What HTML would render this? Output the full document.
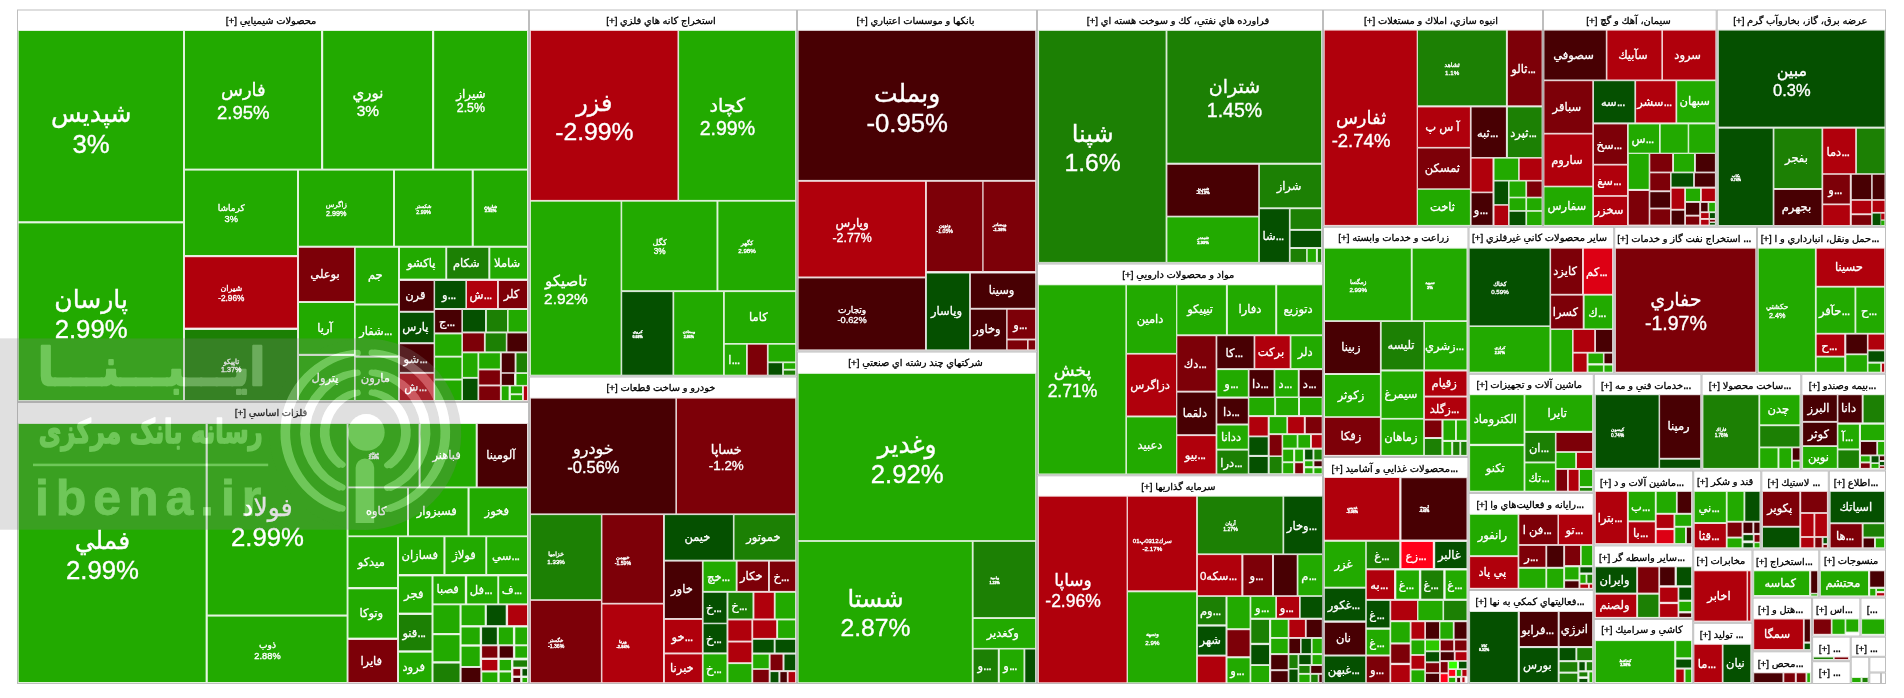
<!DOCTYPE html>
<html lang="fa" dir="ltr"><head><meta charset="utf-8"><title>نقشه بازار</title>
<style>
html,body{margin:0;padding:0;background:#fff;}
body{width:1904px;height:698px;overflow:hidden;position:relative;font-family:"Liberation Sans","DejaVu Sans",sans-serif;direction:ltr;}
#map{position:absolute;left:0;top:0;width:1904px;height:698px;}
#bg{position:absolute;left:0;top:0;}
#txt{position:absolute;left:0;top:0;width:1904px;height:698px;will-change:transform;direction:rtl;}
.h{position:absolute;height:20px;line-height:20px;font-size:9.85px;color:#000;text-align:center;white-space:nowrap;transform:translateX(-50%);-webkit-text-stroke:.3px #000;}
.t{position:absolute;color:#fff;display:flex;flex-direction:column;justify-content:center;align-items:center;text-align:center;white-space:nowrap;overflow:hidden;line-height:1.207;box-sizing:border-box;-webkit-text-stroke:.35px #fff;}
.t i{font-style:normal;display:block;direction:ltr;unicode-bidi:isolate;font-size:1.03em;line-height:1.1718;}
.t b{font-weight:normal;display:block;direction:ltr;}
u{text-decoration:none;display:inline-block;}
.h u{font-size:12px;letter-spacing:-.8px;}
.s u{font-size:13px;letter-spacing:-1px;}
.w{font-weight:bold;}
.w b{font-weight:bold;}
.s{font-size:11.5px;padding-top:1px;-webkit-text-stroke:.3px #fff;}
#wm{position:absolute;left:0;top:0;pointer-events:none;}
</style></head><body>
<div id="map"><div id="txt">
<svg id="bg" width="1904" height="698" viewBox="0 0 1904 698">
<rect x="17.5" y="10" width="511" height="391.5" fill="none" stroke="#bebebe"/>
<rect x="17.5" y="402.5" width="511" height="281" fill="none" stroke="#bebebe"/>
<rect x="529.5" y="10" width="267" height="366" fill="none" stroke="#bebebe"/>
<rect x="529.5" y="377" width="267" height="306.5" fill="none" stroke="#bebebe"/>
<rect x="797.5" y="10" width="239" height="341" fill="none" stroke="#bebebe"/>
<rect x="797.5" y="352" width="239" height="331.5" fill="none" stroke="#bebebe"/>
<rect x="1037.5" y="10" width="285" height="253" fill="none" stroke="#bebebe"/>
<rect x="1037.5" y="264" width="285" height="210.8" fill="none" stroke="#bebebe"/>
<rect x="1037.5" y="475.8" width="285" height="207.7" fill="none" stroke="#bebebe"/>
<rect x="1323.5" y="10" width="219" height="216.3" fill="none" stroke="#bebebe"/>
<rect x="1543.5" y="10" width="172.7" height="216.3" fill="none" stroke="#bebebe"/>
<rect x="1717.2" y="10" width="168.3" height="216.3" fill="none" stroke="#bebebe"/>
<rect x="1323.5" y="227.3" width="144.5" height="229.2" fill="none" stroke="#bebebe"/>
<rect x="1469" y="227.3" width="144.7" height="146" fill="none" stroke="#bebebe"/>
<rect x="1614.7" y="227.3" width="141.8" height="146" fill="none" stroke="#bebebe"/>
<rect x="1757.5" y="227.3" width="128" height="146" fill="none" stroke="#bebebe"/>
<rect x="1323.5" y="457.5" width="144.5" height="226" fill="none" stroke="#bebebe"/>
<rect x="1469" y="374.3" width="124.3" height="118.1" fill="none" stroke="#bebebe"/>
<rect x="1594.3" y="374.3" width="106.7" height="95.7" fill="none" stroke="#bebebe"/>
<rect x="1702" y="374.3" width="98.8" height="95.7" fill="none" stroke="#bebebe"/>
<rect x="1801.8" y="374.3" width="83.7" height="95.7" fill="none" stroke="#bebebe"/>
<rect x="1469" y="493.4" width="124.3" height="96.1" fill="none" stroke="#bebebe"/>
<rect x="1469" y="590.5" width="124.3" height="93" fill="none" stroke="#bebebe"/>
<rect x="1594.3" y="471" width="98.4" height="73.9" fill="none" stroke="#bebebe"/>
<rect x="1594.3" y="545.9" width="98.4" height="72.6" fill="none" stroke="#bebebe"/>
<rect x="1594.3" y="619.5" width="98.4" height="64" fill="none" stroke="#bebebe"/>
<rect x="1693.7" y="471" width="67.1" height="78" fill="none" stroke="#bebebe"/>
<rect x="1761.8" y="471" width="66.5" height="78" fill="none" stroke="#bebebe"/>
<rect x="1829.3" y="471" width="56.2" height="78" fill="none" stroke="#bebebe"/>
<rect x="1693.7" y="550" width="58.3" height="72.3" fill="none" stroke="#bebebe"/>
<rect x="1753" y="550" width="65.8" height="47.1" fill="none" stroke="#bebebe"/>
<rect x="1819.8" y="550" width="65.7" height="47.1" fill="none" stroke="#bebebe"/>
<rect x="1693.7" y="623.3" width="58.3" height="60.2" fill="none" stroke="#bebebe"/>
<rect x="1753" y="598.1" width="58.6" height="52.7" fill="none" stroke="#bebebe"/>
<rect x="1812.6" y="598.1" width="47.3" height="38" fill="none" stroke="#bebebe"/>
<rect x="1860.9" y="598.1" width="24.6" height="38" fill="none" stroke="#bebebe"/>
<rect x="1753" y="651.8" width="58.6" height="31.7" fill="none" stroke="#bebebe"/>
<rect x="1812.6" y="637.1" width="37.6" height="23.6" fill="none" stroke="#bebebe"/>
<rect x="1851.2" y="637.1" width="34.3" height="19.2" fill="none" stroke="#bebebe"/>
<rect x="1812.6" y="661.7" width="37.6" height="21.8" fill="none" stroke="#bebebe"/>
<rect x="1851.2" y="657.3" width="17.6" height="26.2" fill="none" stroke="#bebebe"/>
<rect x="1869.8" y="657.3" width="15.7" height="14.7" fill="none" stroke="#bebebe"/>
<rect x="1869.8" y="673" width="10.7" height="10.5" fill="none" stroke="#bebebe"/>
<rect x="1881.5" y="673" width="4" height="10.5" fill="none" stroke="#bebebe"/>
<g fill-opacity=".14">
<rect x="17.7" y="30" width="166.3" height="192.2" fill="#22aa00"/>
<rect x="17.7" y="222.4" width="166.3" height="178.6" fill="#22aa00"/>
<rect x="184" y="30" width="138" height="139.6" fill="#22aa00"/>
<rect x="322.2" y="30" width="110.8" height="139.6" fill="#22aa00"/>
<rect x="433.2" y="30" width="94.8" height="139.6" fill="#22aa00"/>
<rect x="184" y="169.6" width="114" height="86.4" fill="#22aa00"/>
<rect x="298" y="169.6" width="96" height="77.1" fill="#22aa00"/>
<rect x="394" y="169.6" width="78.7" height="77.1" fill="#22aa00"/>
<rect x="472.8" y="169.6" width="55.2" height="77.1" fill="#22aa00"/>
<rect x="184" y="256.2" width="114" height="72.4" fill="#b0000c"/>
<rect x="184" y="329" width="114" height="72" fill="#1c8004"/>
<rect x="298" y="246.8" width="57" height="55.2" fill="#7d0008"/>
<rect x="354.7" y="246.8" width="44.3" height="57.7" fill="#22aa00"/>
<rect x="399" y="246.8" width="47.3" height="32.8" fill="#22aa00"/>
<rect x="446.2" y="246.8" width="43.1" height="32.8" fill="#1c8004"/>
<rect x="489.3" y="246.8" width="38.7" height="32.8" fill="#22aa00"/>
<rect x="399" y="280" width="35.6" height="31.8" fill="#480003"/>
<rect x="434.1" y="280" width="32.3" height="29" fill="#055000"/>
<rect x="466" y="280" width="32" height="29" fill="#b0000c"/>
<rect x="497.9" y="280" width="30.1" height="29" fill="#7d0008"/>
<rect x="298" y="302" width="57" height="52.8" fill="#22aa00"/>
<rect x="298" y="355" width="57" height="46" fill="#22aa00"/>
<rect x="354.7" y="304.5" width="44.3" height="52.1" fill="#22aa00"/>
<rect x="354.7" y="356.7" width="44.3" height="44.3" fill="#22aa00"/>
<rect x="399" y="311.8" width="35.6" height="31.4" fill="#055000"/>
<rect x="399" y="343.2" width="35.6" height="29.7" fill="#480003"/>
<rect x="399" y="372.8" width="35.6" height="28.2" fill="#b0000c"/>
<rect x="434.1" y="309" width="28.3" height="24.4" fill="#480003"/>
<rect x="462" y="309" width="24" height="23.5" fill="#055000"/>
<rect x="485.9" y="309" width="22.1" height="23.5" fill="#1c8004"/>
<rect x="507.6" y="309" width="20.4" height="23.5" fill="#22aa00"/>
<rect x="434.1" y="333.4" width="28.3" height="23.3" fill="#22aa00"/>
<rect x="462" y="332.4" width="22.9" height="20" fill="#7d0008"/>
<rect x="484.7" y="332.4" width="22.1" height="20" fill="#1c8004"/>
<rect x="506.4" y="332.4" width="21.6" height="20" fill="#480003"/>
<rect x="434.1" y="356.6" width="28.3" height="23" fill="#22aa00"/>
<rect x="462" y="352.3" width="16.5" height="25.6" fill="#22aa00"/>
<rect x="478.2" y="352.3" width="22.7" height="17.2" fill="#22aa00"/>
<rect x="500.8" y="352.3" width="14.8" height="20.9" fill="#480003"/>
<rect x="515.5" y="352.3" width="12.5" height="20.9" fill="#1c8004"/>
<rect x="434.1" y="379.5" width="28.3" height="21.5" fill="#22aa00"/>
<rect x="462" y="377.8" width="16.5" height="23.2" fill="#055000"/>
<rect x="478.2" y="369.4" width="22.7" height="16.1" fill="#7d0008"/>
<rect x="500.8" y="372.8" width="14.2" height="13.1" fill="#480003"/>
<rect x="515.5" y="373" width="12.5" height="12.9" fill="#22aa00"/>
<rect x="478.2" y="385.4" width="22.7" height="15.6" fill="#7d0008"/>
<rect x="500.8" y="385.4" width="8.8" height="15.6" fill="#22aa00"/>
<rect x="509.9" y="385.4" width="13.1" height="8.9" fill="#22aa00"/>
<rect x="509.9" y="394.2" width="13.1" height="6.8" fill="#22aa00"/>
<rect x="522.9" y="385.4" width="5.1" height="15.6" fill="#b0000c"/>
<rect x="17.7" y="423" width="188.9" height="260" fill="#22aa00"/>
<rect x="206.8" y="423" width="140.8" height="192.5" fill="#22aa00"/>
<rect x="206.8" y="615.6" width="140.8" height="67.4" fill="#22aa00"/>
<rect x="347.5" y="423" width="72.1" height="64.5" fill="#22aa00"/>
<rect x="419.6" y="423" width="57.1" height="64.5" fill="#22aa00"/>
<rect x="476.8" y="423" width="51.2" height="64.5" fill="#480003"/>
<rect x="347.5" y="487.3" width="60.5" height="49.1" fill="#22aa00"/>
<rect x="408" y="487.3" width="60.5" height="49.1" fill="#22aa00"/>
<rect x="468.6" y="487.3" width="59.4" height="49.1" fill="#22aa00"/>
<rect x="347.5" y="536.2" width="50.5" height="51.8" fill="#22aa00"/>
<rect x="347.5" y="588.3" width="50.5" height="50.3" fill="#22aa00"/>
<rect x="347.5" y="639" width="50.5" height="44" fill="#7d0008"/>
<rect x="398" y="536.2" width="46.4" height="38.8" fill="#22aa00"/>
<rect x="444.5" y="536.2" width="41.8" height="38.8" fill="#22aa00"/>
<rect x="486.2" y="536.2" width="41.8" height="38.8" fill="#22aa00"/>
<rect x="398" y="575.4" width="34.5" height="38.2" fill="#22aa00"/>
<rect x="398" y="614" width="34.5" height="37.3" fill="#1c8004"/>
<rect x="398" y="651.7" width="34.5" height="31.3" fill="#22aa00"/>
<rect x="432.5" y="575.4" width="33.3" height="29" fill="#22aa00"/>
<rect x="466.2" y="575.4" width="32.1" height="29" fill="#22aa00"/>
<rect x="498.2" y="575.4" width="29.8" height="29" fill="#22aa00"/>
<rect x="432.5" y="604.3" width="28" height="29.7" fill="#22aa00"/>
<rect x="432.5" y="634.2" width="28" height="28" fill="#22aa00"/>
<rect x="432.5" y="662.6" width="28" height="20.4" fill="#1c8004"/>
<rect x="460.6" y="604.3" width="25.1" height="21.8" fill="#22aa00"/>
<rect x="485.9" y="604.3" width="20.8" height="21.8" fill="#055000"/>
<rect x="507.1" y="604.3" width="20.9" height="21.8" fill="#b0000c"/>
<rect x="460.6" y="626.5" width="20.1" height="18.8" fill="#22aa00"/>
<rect x="481.1" y="626.5" width="16.7" height="18.8" fill="#055000"/>
<rect x="497.9" y="626.5" width="16" height="18.8" fill="#22aa00"/>
<rect x="514.3" y="626.5" width="13.7" height="18.8" fill="#22aa00"/>
<rect x="460.6" y="645.7" width="20.1" height="21.3" fill="#22aa00"/>
<rect x="481.1" y="645.3" width="17.2" height="13.3" fill="#7d0008"/>
<rect x="498.7" y="645.3" width="15.2" height="13.3" fill="#480003"/>
<rect x="514.3" y="645.3" width="13.7" height="13.3" fill="#22aa00"/>
<rect x="481.1" y="659" width="17.2" height="12.3" fill="#b0000c"/>
<rect x="498.7" y="659" width="13.3" height="12.3" fill="#22aa00"/>
<rect x="512.4" y="659.4" width="15.6" height="8.3" fill="#1c8004"/>
<rect x="460.6" y="667" width="20.8" height="16" fill="#480003"/>
<rect x="481.3" y="671.5" width="17" height="11.5" fill="#22aa00"/>
<rect x="498.7" y="671.5" width="13.3" height="11.5" fill="#22aa00"/>
<rect x="512.4" y="668.1" width="8.7" height="8.5" fill="#7d0008"/>
<rect x="521.5" y="668.1" width="6.5" height="8.5" fill="#055000"/>
<rect x="512.4" y="677" width="8.7" height="6" fill="#480003"/>
<rect x="521.5" y="677" width="6.5" height="6" fill="#22aa00"/>
<rect x="529.9" y="29.9" width="148.6" height="171" fill="#b0000c"/>
<rect x="678.1" y="29.9" width="118" height="171" fill="#22aa00"/>
<rect x="529.9" y="200.7" width="91.7" height="175" fill="#22aa00"/>
<rect x="621.2" y="200.7" width="96.3" height="90.5" fill="#22aa00"/>
<rect x="717.4" y="200.7" width="78.8" height="90.5" fill="#22aa00"/>
<rect x="621.2" y="291.1" width="52.3" height="84.6" fill="#055000"/>
<rect x="673.2" y="291.1" width="50.8" height="84.6" fill="#22aa00"/>
<rect x="723.8" y="291.1" width="72.4" height="52.9" fill="#22aa00"/>
<rect x="723.8" y="343.7" width="23.2" height="32" fill="#22aa00"/>
<rect x="746.8" y="343.7" width="21.1" height="32" fill="#7d0008"/>
<rect x="767.6" y="343.7" width="28.6" height="18.8" fill="#22aa00"/>
<rect x="767.6" y="362.2" width="15.5" height="13.5" fill="#055000"/>
<rect x="782.9" y="362.2" width="13.3" height="7.6" fill="#22aa00"/>
<rect x="782.9" y="369.6" width="13.3" height="6.1" fill="#1c8004"/>
<rect x="529.9" y="397.6" width="146.5" height="116.8" fill="#480003"/>
<rect x="676" y="397.6" width="120.2" height="116.8" fill="#7d0008"/>
<rect x="529.9" y="514.1" width="72" height="86.1" fill="#1c8004"/>
<rect x="601.4" y="514.1" width="62.6" height="89.7" fill="#7d0008"/>
<rect x="663.9" y="514.1" width="70" height="46.6" fill="#055000"/>
<rect x="733.5" y="514.1" width="62.7" height="46.6" fill="#1c8004"/>
<rect x="529.9" y="599.9" width="72" height="83.3" fill="#7d0008"/>
<rect x="601.4" y="603.5" width="62.6" height="79.7" fill="#b0000c"/>
<rect x="663.9" y="560.6" width="39" height="58.4" fill="#480003"/>
<rect x="702.6" y="560.6" width="34.1" height="31.3" fill="#22aa00"/>
<rect x="736.6" y="560.6" width="32.4" height="31.3" fill="#7d0008"/>
<rect x="768.9" y="560.6" width="27.3" height="31.3" fill="#7d0008"/>
<rect x="663.9" y="618.9" width="39" height="34.6" fill="#b0000c"/>
<rect x="663.9" y="653.4" width="39" height="29.8" fill="#b0000c"/>
<rect x="702.6" y="591.8" width="24.9" height="31.9" fill="#055000"/>
<rect x="727.4" y="591.8" width="26.1" height="27.7" fill="#1c8004"/>
<rect x="753.4" y="591.8" width="21.4" height="27.7" fill="#b0000c"/>
<rect x="774.6" y="591.8" width="21.5" height="27.7" fill="#22aa00"/>
<rect x="702.6" y="623.2" width="24.9" height="30.2" fill="#055000"/>
<rect x="702.6" y="653.4" width="24.9" height="29.8" fill="#22aa00"/>
<rect x="727.4" y="619.4" width="25" height="22.2" fill="#b0000c"/>
<rect x="727.4" y="641.5" width="25" height="21.7" fill="#b0000c"/>
<rect x="727.4" y="663.1" width="25" height="20.1" fill="#22aa00"/>
<rect x="752.2" y="619.4" width="25" height="19.5" fill="#b0000c"/>
<rect x="777.1" y="619.4" width="19" height="19.5" fill="#22aa00"/>
<rect x="752.2" y="638.8" width="22.5" height="14.7" fill="#055000"/>
<rect x="774.6" y="638.8" width="21.5" height="14.7" fill="#055000"/>
<rect x="752.2" y="653.6" width="17.5" height="15.6" fill="#22aa00"/>
<rect x="769.6" y="653.6" width="13.9" height="17.5" fill="#7d0008"/>
<rect x="783.5" y="653.6" width="12.7" height="17.5" fill="#055000"/>
<rect x="752.2" y="668.9" width="17.5" height="14.3" fill="#7d0008"/>
<rect x="769.6" y="671.1" width="9.8" height="12.1" fill="#055000"/>
<rect x="779.4" y="671.1" width="8.4" height="12.1" fill="#480003"/>
<rect x="787.6" y="671.1" width="8.5" height="12.1" fill="#b0000c"/>
<rect x="797.6" y="29.9" width="238.6" height="151" fill="#480003"/>
<rect x="797.6" y="180.8" width="128.4" height="96.7" fill="#b0000c"/>
<rect x="925.9" y="180.8" width="57.3" height="91.2" fill="#7d0008"/>
<rect x="982.6" y="180.8" width="53.5" height="91.2" fill="#7d0008"/>
<rect x="797.6" y="277.4" width="128.4" height="73" fill="#480003"/>
<rect x="925.9" y="272.5" width="44.2" height="77.9" fill="#055000"/>
<rect x="969.9" y="272.5" width="66.3" height="36.3" fill="#480003"/>
<rect x="969.9" y="308.7" width="37.2" height="41.7" fill="#480003"/>
<rect x="1006.6" y="308.7" width="29.5" height="30.9" fill="#7d0008"/>
<rect x="1006.6" y="339.4" width="21.4" height="11" fill="#7d0008"/>
<rect x="1027.6" y="339.4" width="8.5" height="11" fill="#7d0008"/>
<rect x="797.6" y="372.9" width="238.6" height="168.2" fill="#22aa00"/>
<rect x="797.6" y="540.9" width="175.2" height="142.3" fill="#22aa00"/>
<rect x="972.6" y="540.9" width="63.5" height="77.2" fill="#1c8004"/>
<rect x="972.6" y="618" width="63.5" height="30.9" fill="#22aa00"/>
<rect x="972.6" y="648.5" width="26.2" height="34.7" fill="#1c8004"/>
<rect x="998.8" y="648.5" width="25.7" height="34.7" fill="#22aa00"/>
<rect x="1024.3" y="648.5" width="11.8" height="34.7" fill="#055000"/>
<rect x="1038.1" y="29.9" width="128.5" height="233" fill="#1c8004"/>
<rect x="1166.4" y="29.9" width="155.7" height="133.8" fill="#1c8004"/>
<rect x="1166.4" y="163.8" width="92.8" height="52.9" fill="#480003"/>
<rect x="1166.4" y="216.4" width="92.8" height="46.5" fill="#22aa00"/>
<rect x="1258.9" y="163.8" width="63.2" height="44.5" fill="#1c8004"/>
<rect x="1258.9" y="208.2" width="31" height="54.7" fill="#055000"/>
<rect x="1289.6" y="208.2" width="32.5" height="21.7" fill="#1c8004"/>
<rect x="1289.6" y="229.9" width="32.5" height="18.1" fill="#055000"/>
<rect x="1289.6" y="248" width="17.5" height="14.9" fill="#1c8004"/>
<rect x="1306.7" y="248" width="10.2" height="14.9" fill="#22aa00"/>
<rect x="1316.9" y="248" width="5.2" height="14.9" fill="#1c8004"/>
<rect x="1037.9" y="284.3" width="88.5" height="190.2" fill="#22aa00"/>
<rect x="1126" y="284.3" width="51" height="69.6" fill="#22aa00"/>
<rect x="1126" y="353.6" width="51" height="62.9" fill="#b0000c"/>
<rect x="1126" y="416.4" width="51" height="58.1" fill="#22aa00"/>
<rect x="1176.3" y="284.3" width="50.6" height="51" fill="#22aa00"/>
<rect x="1226.9" y="284.3" width="49.3" height="51" fill="#22aa00"/>
<rect x="1276.2" y="284.3" width="46.8" height="51" fill="#22aa00"/>
<rect x="1176.3" y="335.2" width="40.3" height="56.5" fill="#7d0008"/>
<rect x="1176.3" y="391.6" width="40.3" height="43.6" fill="#480003"/>
<rect x="1176.3" y="435.1" width="40.3" height="39.4" fill="#b0000c"/>
<rect x="1216.3" y="335.2" width="38.3" height="33.9" fill="#480003"/>
<rect x="1254.3" y="335.2" width="36.4" height="33.9" fill="#b0000c"/>
<rect x="1290.4" y="335.2" width="32.6" height="33.9" fill="#22aa00"/>
<rect x="1216.3" y="369.1" width="32.5" height="28.4" fill="#22aa00"/>
<rect x="1248.5" y="369.1" width="26.1" height="28.4" fill="#480003"/>
<rect x="1274.3" y="369.1" width="24.5" height="28.4" fill="#22aa00"/>
<rect x="1298.7" y="369.1" width="24.3" height="28.4" fill="#480003"/>
<rect x="1216.3" y="397.7" width="32.5" height="26.8" fill="#480003"/>
<rect x="1216.3" y="424.5" width="32.5" height="25.2" fill="#22aa00"/>
<rect x="1216.3" y="449.6" width="32.5" height="24.9" fill="#1c8004"/>
<rect x="1248.3" y="397" width="26.9" height="19.1" fill="#22aa00"/>
<rect x="1275.1" y="397" width="23.9" height="19.1" fill="#22aa00"/>
<rect x="1299" y="397" width="23.7" height="19.1" fill="#22aa00"/>
<rect x="1248.3" y="416.1" width="20.4" height="20.4" fill="#b0000c"/>
<rect x="1268.7" y="416.1" width="18.7" height="18.1" fill="#22aa00"/>
<rect x="1287.1" y="416.1" width="17.7" height="18.1" fill="#b0000c"/>
<rect x="1304.8" y="416.1" width="17.9" height="18.1" fill="#7d0008"/>
<rect x="1248.3" y="436.3" width="20.4" height="19.6" fill="#055000"/>
<rect x="1268.7" y="434.1" width="13.9" height="22.3" fill="#7d0008"/>
<rect x="1282.2" y="434.1" width="15.5" height="14.5" fill="#22aa00"/>
<rect x="1297.4" y="434.1" width="13.6" height="14.5" fill="#22aa00"/>
<rect x="1310.9" y="434.1" width="11.8" height="14.5" fill="#b0000c"/>
<rect x="1248.3" y="456" width="20.4" height="18.2" fill="#055000"/>
<rect x="1268.7" y="456" width="13.9" height="18.2" fill="#1c8004"/>
<rect x="1282.2" y="448.7" width="11.9" height="13.6" fill="#22aa00"/>
<rect x="1294.2" y="448.7" width="9.7" height="13.6" fill="#22aa00"/>
<rect x="1304.1" y="448.7" width="9.4" height="11.7" fill="#055000"/>
<rect x="1313.4" y="448.7" width="9.3" height="11.7" fill="#1c8004"/>
<rect x="1282.2" y="462.2" width="11.9" height="12" fill="#22aa00"/>
<rect x="1294.2" y="462.2" width="9.7" height="12" fill="#7d0008"/>
<rect x="1304.1" y="460.3" width="9.4" height="6.8" fill="#22aa00"/>
<rect x="1313.4" y="460.3" width="9.3" height="6.8" fill="#480003"/>
<rect x="1304.1" y="467.3" width="9.4" height="6.9" fill="#22aa00"/>
<rect x="1313.4" y="467.3" width="9.3" height="6.9" fill="#22aa00"/>
<rect x="1037.9" y="495.7" width="89.7" height="187.6" fill="#b0000c"/>
<rect x="1127" y="495.7" width="70.1" height="95.6" fill="#b0000c"/>
<rect x="1127" y="591.3" width="70.1" height="92" fill="#22aa00"/>
<rect x="1196.9" y="495.7" width="86.6" height="58.7" fill="#1c8004"/>
<rect x="1283.2" y="495.7" width="39.9" height="58.7" fill="#055000"/>
<rect x="1196.9" y="554.1" width="45.4" height="42.1" fill="#b0000c"/>
<rect x="1242.4" y="554.1" width="30.6" height="42.1" fill="#7d0008"/>
<rect x="1273" y="554.1" width="24.7" height="42.1" fill="#480003"/>
<rect x="1297.4" y="554.1" width="25.7" height="42.1" fill="#22aa00"/>
<rect x="1196.9" y="595.9" width="29.6" height="29.4" fill="#1c8004"/>
<rect x="1196.9" y="625.6" width="29.6" height="30" fill="#055000"/>
<rect x="1196.9" y="655.6" width="29.6" height="27.7" fill="#b0000c"/>
<rect x="1226.5" y="595.9" width="24.1" height="33.3" fill="#22aa00"/>
<rect x="1226.5" y="629.2" width="24.1" height="28" fill="#7d0008"/>
<rect x="1226.5" y="657.3" width="24.1" height="26" fill="#22aa00"/>
<rect x="1250.3" y="595.9" width="26" height="22.8" fill="#22aa00"/>
<rect x="1276" y="595.9" width="24" height="22.8" fill="#b0000c"/>
<rect x="1299.7" y="595.9" width="23.4" height="22.8" fill="#055000"/>
<rect x="1250.3" y="618.9" width="19.7" height="24.9" fill="#1c8004"/>
<rect x="1250.3" y="644.1" width="19.7" height="21" fill="#055000"/>
<rect x="1250.3" y="665" width="19.7" height="18" fill="#22aa00"/>
<rect x="1270.2" y="618.9" width="18.5" height="19.1" fill="#22aa00"/>
<rect x="1288.4" y="618.9" width="17.5" height="19.1" fill="#b0000c"/>
<rect x="1305.7" y="618.9" width="17.1" height="19.1" fill="#480003"/>
<rect x="1270.2" y="637.9" width="18.5" height="16.2" fill="#22aa00"/>
<rect x="1288.4" y="637.9" width="12.6" height="16.2" fill="#480003"/>
<rect x="1300.6" y="637.9" width="11.3" height="16.2" fill="#055000"/>
<rect x="1311.6" y="637.9" width="11.2" height="16.2" fill="#22aa00"/>
<rect x="1270.2" y="654.1" width="18.5" height="16.1" fill="#480003"/>
<rect x="1288.4" y="654.1" width="10.2" height="14.9" fill="#1c8004"/>
<rect x="1298.3" y="654.1" width="13.4" height="11" fill="#055000"/>
<rect x="1311.6" y="654.1" width="11.2" height="11" fill="#22aa00"/>
<rect x="1270.2" y="670.2" width="18.5" height="12.8" fill="#480003"/>
<rect x="1288.4" y="668.6" width="10.2" height="14.4" fill="#055000"/>
<rect x="1298.3" y="665" width="12.3" height="8.9" fill="#1c8004"/>
<rect x="1310.2" y="665" width="12.6" height="8.9" fill="#480003"/>
<rect x="1298.3" y="673.8" width="12.3" height="9.2" fill="#22aa00"/>
<rect x="1310.2" y="673.8" width="8.5" height="9.2" fill="#1c8004"/>
<rect x="1318.3" y="673.8" width="4.5" height="9.2" fill="#480003"/>
<rect x="1323.7" y="29.6" width="94" height="196.3" fill="#b0000c"/>
<rect x="1417" y="29.6" width="89.9" height="76.7" fill="#1c8004"/>
<rect x="1506.9" y="29.6" width="35.7" height="76.7" fill="#7d0008"/>
<rect x="1417" y="106.4" width="53.9" height="41.5" fill="#b0000c"/>
<rect x="1417" y="147.5" width="53.9" height="41.8" fill="#7d0008"/>
<rect x="1417" y="188.8" width="53.9" height="37.1" fill="#22aa00"/>
<rect x="1470.6" y="106.4" width="36.3" height="51.6" fill="#480003"/>
<rect x="1506.9" y="106.4" width="35.7" height="51.6" fill="#1c8004"/>
<rect x="1470.6" y="157.6" width="22.9" height="35" fill="#b0000c"/>
<rect x="1470.6" y="192.2" width="22.9" height="33.7" fill="#480003"/>
<rect x="1493.5" y="157.6" width="25.6" height="23.3" fill="#22aa00"/>
<rect x="1518.7" y="157.6" width="23.9" height="23.3" fill="#b0000c"/>
<rect x="1493.5" y="180.5" width="15.5" height="24.6" fill="#055000"/>
<rect x="1493.5" y="204.7" width="15.5" height="21.3" fill="#b0000c"/>
<rect x="1508.6" y="180.5" width="17.8" height="17.2" fill="#22aa00"/>
<rect x="1526.1" y="180.5" width="16.5" height="17.2" fill="#7d0008"/>
<rect x="1508.6" y="197.3" width="17.8" height="13.8" fill="#22aa00"/>
<rect x="1526.1" y="197.3" width="16.5" height="13.8" fill="#22aa00"/>
<rect x="1508.6" y="210.8" width="17.8" height="15.2" fill="#055000"/>
<rect x="1526.1" y="210.8" width="16.5" height="15.2" fill="#22aa00"/>
<rect x="1543.4" y="29.6" width="63.4" height="50.9" fill="#480003"/>
<rect x="1606.4" y="29.6" width="56" height="50.9" fill="#b0000c"/>
<rect x="1662" y="29.6" width="54.3" height="50.9" fill="#b0000c"/>
<rect x="1543.4" y="80.2" width="49.9" height="53.6" fill="#7d0008"/>
<rect x="1593" y="80.2" width="42.4" height="43.2" fill="#055000"/>
<rect x="1635.1" y="80.2" width="41.4" height="43.2" fill="#b0000c"/>
<rect x="1676.2" y="80.2" width="40.1" height="43.2" fill="#22aa00"/>
<rect x="1543.4" y="133.5" width="49.9" height="53.2" fill="#b0000c"/>
<rect x="1543.4" y="186.3" width="49.9" height="39.6" fill="#22aa00"/>
<rect x="1593" y="123.4" width="35" height="41.4" fill="#7d0008"/>
<rect x="1593" y="164.5" width="35" height="31.6" fill="#b0000c"/>
<rect x="1593" y="195.8" width="35" height="30.2" fill="#b0000c"/>
<rect x="1627.7" y="123.4" width="32.3" height="30.3" fill="#22aa00"/>
<rect x="1659.7" y="123.4" width="29" height="30.3" fill="#22aa00"/>
<rect x="1688.2" y="123.4" width="28" height="30.3" fill="#22aa00"/>
<rect x="1627.8" y="153" width="21.9" height="36.9" fill="#22aa00"/>
<rect x="1627.8" y="190" width="21.9" height="35.6" fill="#7d0008"/>
<rect x="1649.3" y="153" width="23.8" height="19.6" fill="#7d0008"/>
<rect x="1673" y="153" width="22" height="19.6" fill="#22aa00"/>
<rect x="1694.9" y="153" width="21" height="19.6" fill="#480003"/>
<rect x="1649.3" y="172.3" width="21.7" height="19" fill="#7d0008"/>
<rect x="1670.6" y="172.3" width="23.5" height="15.3" fill="#055000"/>
<rect x="1693.9" y="172.3" width="22" height="15.3" fill="#480003"/>
<rect x="1649.3" y="191.2" width="21.7" height="17.4" fill="#480003"/>
<rect x="1649.3" y="208.4" width="21.7" height="17.2" fill="#7d0008"/>
<rect x="1670.6" y="187.7" width="14.6" height="22.1" fill="#b0000c"/>
<rect x="1670.6" y="209.7" width="14.6" height="15.9" fill="#480003"/>
<rect x="1685" y="187.7" width="16" height="14.3" fill="#22aa00"/>
<rect x="1700.8" y="187.7" width="15.1" height="14.3" fill="#b0000c"/>
<rect x="1685" y="201.9" width="15.2" height="13.8" fill="#480003"/>
<rect x="1685" y="215.6" width="15.2" height="10" fill="#7d0008"/>
<rect x="1700.1" y="201.9" width="8.5" height="10.4" fill="#480003"/>
<rect x="1708.2" y="201.9" width="7.7" height="10.4" fill="#22aa00"/>
<rect x="1700.1" y="212.1" width="9.5" height="6.9" fill="#b0000c"/>
<rect x="1709" y="212.1" width="6.9" height="6.9" fill="#055000"/>
<rect x="1700.1" y="218.9" width="9.5" height="6.7" fill="#b0000c"/>
<rect x="1709" y="218.9" width="6.9" height="3.6" fill="#7d0008"/>
<rect x="1709" y="222" width="6.9" height="3.6" fill="#055000"/>
<rect x="1717.8" y="29.6" width="167.7" height="98" fill="#055000"/>
<rect x="1717.8" y="127.7" width="55.9" height="98.3" fill="#055000"/>
<rect x="1773.4" y="127.7" width="49.1" height="61.3" fill="#1c8004"/>
<rect x="1773.4" y="189" width="49.1" height="37" fill="#480003"/>
<rect x="1822.2" y="127.7" width="34" height="46.5" fill="#b0000c"/>
<rect x="1855.9" y="127.7" width="29.6" height="46.5" fill="#1c8004"/>
<rect x="1822.2" y="173.8" width="28.6" height="30.7" fill="#7d0008"/>
<rect x="1822.2" y="204.2" width="28.6" height="21.8" fill="#b0000c"/>
<rect x="1850.8" y="173.8" width="21.3" height="26.3" fill="#480003"/>
<rect x="1871.7" y="173.8" width="13.8" height="26.3" fill="#480003"/>
<rect x="1850.8" y="199.8" width="21.3" height="14.5" fill="#b0000c"/>
<rect x="1871.7" y="199.8" width="13.8" height="13.1" fill="#b0000c"/>
<rect x="1850.8" y="214.2" width="21.3" height="11.7" fill="#7d0008"/>
<rect x="1871.7" y="212.6" width="9.8" height="13.4" fill="#055000"/>
<rect x="1880.2" y="212.7" width="5.2" height="7.7" fill="#b0000c"/>
<rect x="1880.2" y="219.7" width="5.2" height="6.3" fill="#22aa00"/>
<rect x="1324" y="247.7" width="87.8" height="73.5" fill="#22aa00"/>
<rect x="1411.7" y="247.7" width="55.8" height="73.5" fill="#22aa00"/>
<rect x="1324" y="321" width="56.9" height="53" fill="#480003"/>
<rect x="1380.7" y="321" width="43.7" height="49.4" fill="#1c8004"/>
<rect x="1424" y="321" width="43.5" height="49.4" fill="#22aa00"/>
<rect x="1324" y="374" width="56.9" height="43.2" fill="#22aa00"/>
<rect x="1324" y="416.9" width="56.9" height="39" fill="#7d0008"/>
<rect x="1380.6" y="370.5" width="43.6" height="48.4" fill="#22aa00"/>
<rect x="1380.6" y="418.6" width="43.6" height="37.3" fill="#22aa00"/>
<rect x="1423.9" y="370.5" width="43.6" height="26.1" fill="#b0000c"/>
<rect x="1423.9" y="396.5" width="43.6" height="23.3" fill="#b0000c"/>
<rect x="1423.9" y="419.5" width="18.5" height="18.5" fill="#7d0008"/>
<rect x="1423.9" y="438" width="18.5" height="17.9" fill="#1c8004"/>
<rect x="1442.5" y="419.5" width="13.5" height="21.4" fill="#22aa00"/>
<rect x="1455.9" y="419.5" width="11.6" height="21.4" fill="#22aa00"/>
<rect x="1442.5" y="441" width="9.7" height="14.9" fill="#22aa00"/>
<rect x="1452.2" y="441" width="8.2" height="14.9" fill="#1c8004"/>
<rect x="1460.2" y="441" width="7.3" height="14.9" fill="#1c8004"/>
<rect x="1468.7" y="247.7" width="81.8" height="78.7" fill="#055000"/>
<rect x="1550.1" y="247.7" width="32.9" height="47.1" fill="#7d0008"/>
<rect x="1582.9" y="247.7" width="30.2" height="47.1" fill="#dd0014"/>
<rect x="1550.1" y="294.6" width="33.6" height="34.8" fill="#7d0008"/>
<rect x="1583.6" y="294.6" width="29.5" height="34.8" fill="#22aa00"/>
<rect x="1468.7" y="326" width="81.8" height="46.7" fill="#22aa00"/>
<rect x="1550.3" y="329" width="22.7" height="43.7" fill="#22aa00"/>
<rect x="1572.6" y="329" width="22.6" height="23.8" fill="#b0000c"/>
<rect x="1595" y="329" width="18.1" height="23.8" fill="#480003"/>
<rect x="1572.6" y="352.6" width="15" height="20.1" fill="#b0000c"/>
<rect x="1587.5" y="352.6" width="16.4" height="11.6" fill="#22aa00"/>
<rect x="1603.5" y="352.6" width="9.6" height="11.6" fill="#480003"/>
<rect x="1587.5" y="364.5" width="16.4" height="8.2" fill="#22aa00"/>
<rect x="1603.5" y="364.5" width="9.6" height="8.2" fill="#22aa00"/>
<rect x="1614.9" y="247.7" width="141.4" height="125" fill="#7d0008"/>
<rect x="1757.7" y="247.7" width="58.2" height="125" fill="#22aa00"/>
<rect x="1815.7" y="247.7" width="69.4" height="39.1" fill="#b0000c"/>
<rect x="1815.7" y="286.6" width="39.8" height="47.2" fill="#22aa00"/>
<rect x="1855.3" y="286.6" width="29.8" height="47.2" fill="#22aa00"/>
<rect x="1815.7" y="333.6" width="29.5" height="23.1" fill="#b0000c"/>
<rect x="1815.7" y="356.5" width="29.5" height="16.2" fill="#22aa00"/>
<rect x="1845.3" y="333.6" width="22.6" height="20.8" fill="#480003"/>
<rect x="1845.3" y="354.2" width="22.6" height="18.5" fill="#22aa00"/>
<rect x="1867.5" y="333.6" width="17.6" height="16.9" fill="#b0000c"/>
<rect x="1867.5" y="350.3" width="17.6" height="12.3" fill="#055000"/>
<rect x="1867.5" y="362.7" width="13.7" height="10" fill="#22aa00"/>
<rect x="1881" y="362.7" width="4.1" height="10" fill="#b0000c"/>
<rect x="1469.1" y="394.2" width="55.5" height="50.6" fill="#22aa00"/>
<rect x="1469.1" y="445.1" width="55.5" height="46.6" fill="#22aa00"/>
<rect x="1524.4" y="394.2" width="68.7" height="37.6" fill="#22aa00"/>
<rect x="1524.4" y="432" width="31.5" height="30.5" fill="#1c8004"/>
<rect x="1524.4" y="462.4" width="31.5" height="29.3" fill="#22aa00"/>
<rect x="1555.5" y="432" width="37.6" height="20.1" fill="#7d0008"/>
<rect x="1555.5" y="451.9" width="20.7" height="17.1" fill="#22aa00"/>
<rect x="1576" y="451.9" width="17.1" height="17.1" fill="#b0000c"/>
<rect x="1555.5" y="468.9" width="12.5" height="22.8" fill="#7d0008"/>
<rect x="1567.8" y="468.9" width="11.7" height="22.8" fill="#b0000c"/>
<rect x="1579" y="468.9" width="14.1" height="18.2" fill="#22aa00"/>
<rect x="1579" y="487" width="14.1" height="4.7" fill="#1c8004"/>
<rect x="1594.8" y="394.2" width="64.8" height="74.6" fill="#055000"/>
<rect x="1659.1" y="394.2" width="42" height="64.6" fill="#480003"/>
<rect x="1659.1" y="458.7" width="42" height="10.1" fill="#055000"/>
<rect x="1702.4" y="394.2" width="57" height="74.7" fill="#1c8004"/>
<rect x="1759.2" y="394.2" width="41.3" height="31.1" fill="#22aa00"/>
<rect x="1759.2" y="425.2" width="41.3" height="22.3" fill="#1c8004"/>
<rect x="1759.2" y="447.3" width="19.3" height="21.6" fill="#22aa00"/>
<rect x="1778.4" y="447.3" width="13.7" height="21.6" fill="#22aa00"/>
<rect x="1791.8" y="447.3" width="8.7" height="13.4" fill="#480003"/>
<rect x="1791.8" y="460.5" width="8.7" height="8.4" fill="#22aa00"/>
<rect x="1802.1" y="394.2" width="35.7" height="27.7" fill="#480003"/>
<rect x="1837.4" y="394.2" width="25.3" height="29.2" fill="#480003"/>
<rect x="1862.6" y="394.2" width="22.5" height="29.2" fill="#1c8004"/>
<rect x="1802.1" y="421.8" width="35.7" height="24.4" fill="#480003"/>
<rect x="1802.1" y="446" width="35.7" height="22.9" fill="#22aa00"/>
<rect x="1837.4" y="423.7" width="22.5" height="25.8" fill="#22aa00"/>
<rect x="1837.4" y="449.4" width="22.5" height="19.5" fill="#1c8004"/>
<rect x="1860" y="423.7" width="25.1" height="17.4" fill="#22aa00"/>
<rect x="1860" y="441" width="17.3" height="14.5" fill="#480003"/>
<rect x="1877.1" y="441" width="8" height="14.5" fill="#22aa00"/>
<rect x="1860" y="455.3" width="10.7" height="7.2" fill="#22aa00"/>
<rect x="1870.6" y="455.3" width="8.9" height="8" fill="#055000"/>
<rect x="1879" y="455.3" width="6.1" height="5.7" fill="#480003"/>
<rect x="1860" y="462.4" width="10.7" height="6.5" fill="#7d0008"/>
<rect x="1870.6" y="463" width="8.9" height="5.9" fill="#22aa00"/>
<rect x="1879" y="461" width="6.1" height="5" fill="#055000"/>
<rect x="1879" y="465.5" width="6.1" height="3.4" fill="#7d0008"/>
<rect x="1469.1" y="513.8" width="49.5" height="42.4" fill="#22aa00"/>
<rect x="1469.1" y="556.1" width="49.5" height="32.7" fill="#b0000c"/>
<rect x="1518.3" y="513.8" width="40.2" height="31.3" fill="#7d0008"/>
<rect x="1558" y="513.8" width="35.1" height="31.3" fill="#b0000c"/>
<rect x="1518.3" y="544.9" width="28.1" height="22.9" fill="#7d0008"/>
<rect x="1546.2" y="544.9" width="18" height="22.9" fill="#480003"/>
<rect x="1564.1" y="544.9" width="16.9" height="21.2" fill="#7d0008"/>
<rect x="1580.7" y="544.9" width="12.4" height="21.2" fill="#22aa00"/>
<rect x="1518.3" y="567.8" width="28.1" height="21" fill="#22aa00"/>
<rect x="1546.2" y="567.8" width="18" height="21" fill="#22aa00"/>
<rect x="1564.1" y="566.3" width="15.4" height="14.1" fill="#22aa00"/>
<rect x="1564.1" y="580.3" width="15.4" height="8.5" fill="#480003"/>
<rect x="1579.4" y="566.3" width="13.7" height="7.2" fill="#055000"/>
<rect x="1579.4" y="573.8" width="7.2" height="10" fill="#22aa00"/>
<rect x="1586.4" y="573.8" width="6.7" height="10" fill="#1c8004"/>
<rect x="1579.4" y="583.6" width="9.6" height="5.2" fill="#b0000c"/>
<rect x="1588.8" y="583.6" width="4.3" height="5.2" fill="#b0000c"/>
<rect x="1594.8" y="490.9" width="33.1" height="53.2" fill="#b0000c"/>
<rect x="1627.8" y="490.9" width="28" height="30.5" fill="#22aa00"/>
<rect x="1627.8" y="521.3" width="28" height="22.8" fill="#b0000c"/>
<rect x="1655.7" y="490.9" width="21.2" height="22.9" fill="#22aa00"/>
<rect x="1676.7" y="490.9" width="15.4" height="22.9" fill="#480003"/>
<rect x="1655.7" y="513.8" width="18.8" height="15.1" fill="#b0000c"/>
<rect x="1674.3" y="513.8" width="17.8" height="13" fill="#22aa00"/>
<rect x="1655.7" y="529.1" width="18.8" height="15" fill="#dd0014"/>
<rect x="1674.3" y="526.7" width="11.7" height="17.4" fill="#22aa00"/>
<rect x="1685.9" y="526.7" width="6.2" height="17.4" fill="#480003"/>
<rect x="1594.8" y="566.3" width="42.4" height="27.3" fill="#055000"/>
<rect x="1594.8" y="593.7" width="42.4" height="24.2" fill="#b0000c"/>
<rect x="1637.1" y="566.3" width="22.3" height="27.3" fill="#7d0008"/>
<rect x="1637.1" y="593.7" width="22.3" height="24.2" fill="#1c8004"/>
<rect x="1659.1" y="566.3" width="16.5" height="19.9" fill="#480003"/>
<rect x="1675.9" y="566.3" width="16.2" height="19.9" fill="#055000"/>
<rect x="1659.1" y="586.7" width="19.5" height="16.1" fill="#b0000c"/>
<rect x="1678.3" y="586.7" width="13.8" height="14" fill="#055000"/>
<rect x="1659.1" y="603.1" width="19.5" height="14.8" fill="#b0000c"/>
<rect x="1678.3" y="600.8" width="13.8" height="11.3" fill="#22aa00"/>
<rect x="1678.3" y="612.4" width="13.8" height="5.5" fill="#480003"/>
<rect x="1594.8" y="640.1" width="80.4" height="42.9" fill="#22aa00"/>
<rect x="1675.3" y="640.1" width="16.8" height="18.2" fill="#22aa00"/>
<rect x="1675.3" y="658.6" width="16.8" height="9.9" fill="#055000"/>
<rect x="1675.3" y="668.6" width="9.4" height="14.4" fill="#b0000c"/>
<rect x="1684.5" y="668.6" width="7.6" height="14.4" fill="#22aa00"/>
<rect x="1469.1" y="611" width="49.6" height="72" fill="#055000"/>
<rect x="1518.9" y="611" width="39.8" height="36" fill="#480003"/>
<rect x="1558.7" y="611" width="34.4" height="36" fill="#480003"/>
<rect x="1518.9" y="647.1" width="39.8" height="35.9" fill="#055000"/>
<rect x="1558.7" y="647.1" width="17.7" height="14" fill="#055000"/>
<rect x="1576.3" y="647.1" width="16.8" height="14" fill="#1c8004"/>
<rect x="1558.7" y="661.2" width="19.6" height="11.4" fill="#1c8004"/>
<rect x="1558.7" y="672.7" width="19.6" height="10.3" fill="#1c8004"/>
<rect x="1578.4" y="661.2" width="7.3" height="10" fill="#055000"/>
<rect x="1585.8" y="661.2" width="7.3" height="10" fill="#1c8004"/>
<rect x="1578.4" y="671.4" width="9.9" height="5.9" fill="#1c8004"/>
<rect x="1578.4" y="678" width="9.9" height="5" fill="#055000"/>
<rect x="1588.5" y="671.4" width="4.6" height="11.6" fill="#22aa00"/>
<rect x="1323.8" y="477" width="76.4" height="63.7" fill="#b0000c"/>
<rect x="1400.5" y="477.2" width="67" height="63.3" fill="#480003"/>
<rect x="1323.8" y="540.8" width="42.4" height="46.9" fill="#22aa00"/>
<rect x="1323.8" y="587.7" width="42.4" height="33.7" fill="#055000"/>
<rect x="1323.8" y="621.8" width="42.4" height="33.7" fill="#480003"/>
<rect x="1323.8" y="655.5" width="42.4" height="27.7" fill="#055000"/>
<rect x="1365.8" y="540.8" width="34.4" height="28.4" fill="#1c8004"/>
<rect x="1400.5" y="541" width="33.3" height="28" fill="#ff0019"/>
<rect x="1434.2" y="541" width="33.3" height="28" fill="#055000"/>
<rect x="1365.8" y="569.3" width="29.2" height="30.6" fill="#b0000c"/>
<rect x="1395.3" y="569.5" width="24.6" height="30.2" fill="#22aa00"/>
<rect x="1420.3" y="569.5" width="23.9" height="30.2" fill="#1c8004"/>
<rect x="1444.7" y="569.5" width="22.8" height="30.2" fill="#22aa00"/>
<rect x="1365.8" y="599.9" width="24.7" height="28.5" fill="#055000"/>
<rect x="1365.8" y="628.8" width="24.7" height="26.7" fill="#22aa00"/>
<rect x="1365.8" y="655.5" width="24.7" height="27.7" fill="#7d0008"/>
<rect x="1390.2" y="599.9" width="27.8" height="21.2" fill="#b0000c"/>
<rect x="1417.4" y="599.9" width="26.1" height="21.2" fill="#22aa00"/>
<rect x="1443.1" y="599.9" width="24.4" height="21.2" fill="#1c8004"/>
<rect x="1390.2" y="621.2" width="20.5" height="22.2" fill="#22aa00"/>
<rect x="1390.2" y="643.5" width="20.5" height="20.3" fill="#7d0008"/>
<rect x="1390.2" y="664.1" width="20.5" height="18.9" fill="#b0000c"/>
<rect x="1410.5" y="621.2" width="14.8" height="18.5" fill="#b0000c"/>
<rect x="1425" y="621.2" width="15" height="18.5" fill="#480003"/>
<rect x="1439.4" y="621.2" width="14.4" height="18.5" fill="#22aa00"/>
<rect x="1453.6" y="621.2" width="13.9" height="18.5" fill="#480003"/>
<rect x="1410.5" y="639.5" width="14.8" height="15.6" fill="#22aa00"/>
<rect x="1410.5" y="654.9" width="14.8" height="14.8" fill="#b0000c"/>
<rect x="1410.5" y="669.4" width="14.8" height="13.6" fill="#22aa00"/>
<rect x="1425" y="639.5" width="15" height="11.9" fill="#2cc800"/>
<rect x="1439.8" y="639.5" width="14.4" height="11.9" fill="#7d0008"/>
<rect x="1454.1" y="639.5" width="13.4" height="11.9" fill="#7d0008"/>
<rect x="1425" y="651.2" width="15" height="11.2" fill="#055000"/>
<rect x="1439.8" y="651.2" width="15" height="9.9" fill="#480003"/>
<rect x="1454.6" y="651.2" width="12.9" height="9.9" fill="#b0000c"/>
<rect x="1425" y="662.2" width="15" height="11" fill="#7d0008"/>
<rect x="1425" y="672.8" width="15" height="10.2" fill="#480003"/>
<rect x="1439.8" y="661.1" width="8.8" height="12.3" fill="#7d0008"/>
<rect x="1439.8" y="673.2" width="8.8" height="9.8" fill="#ff0019"/>
<rect x="1448.1" y="660.8" width="9.8" height="8.5" fill="#33ff00"/>
<rect x="1458" y="660.8" width="9.5" height="8.5" fill="#055000"/>
<rect x="1448.1" y="669" width="8" height="7.9" fill="#ff0019"/>
<rect x="1455.9" y="669" width="5.9" height="7.9" fill="#22aa00"/>
<rect x="1461.4" y="669" width="6.1" height="7.9" fill="#b0000c"/>
<rect x="1448.1" y="676.9" width="8" height="6.1" fill="#22aa00"/>
<rect x="1456.2" y="676.9" width="4.8" height="6.1" fill="#480003"/>
<rect x="1461.4" y="676.5" width="4.1" height="6.5" fill="#b0000c"/>
<rect x="1693.7" y="490.9" width="33.1" height="32.2" fill="#22aa00"/>
<rect x="1693.7" y="523" width="33.1" height="25.3" fill="#b0000c"/>
<rect x="1726.6" y="490.9" width="17.9" height="30.9" fill="#22aa00"/>
<rect x="1744.3" y="490.9" width="16.2" height="30.9" fill="#055000"/>
<rect x="1726.6" y="521.7" width="16" height="15.9" fill="#7d0008"/>
<rect x="1742.5" y="521.7" width="10.9" height="12.2" fill="#480003"/>
<rect x="1753.3" y="521.7" width="7.2" height="12.2" fill="#480003"/>
<rect x="1726.6" y="537.5" width="16" height="10.8" fill="#22aa00"/>
<rect x="1742.5" y="534.1" width="11.3" height="7.3" fill="#055000"/>
<rect x="1753.6" y="534.1" width="6.9" height="8.6" fill="#7d0008"/>
<rect x="1742.5" y="542.2" width="11.3" height="6.1" fill="#055000"/>
<rect x="1753.6" y="542.2" width="6.9" height="6.1" fill="#22aa00"/>
<rect x="1762" y="490.9" width="38.3" height="35.9" fill="#7d0008"/>
<rect x="1762" y="526.7" width="38.3" height="21.6" fill="#055000"/>
<rect x="1800.2" y="490.9" width="27.7" height="22.2" fill="#7d0008"/>
<rect x="1800.2" y="512.9" width="14.3" height="24.2" fill="#b0000c"/>
<rect x="1814.3" y="512.9" width="13.6" height="24.2" fill="#b0000c"/>
<rect x="1800.2" y="536.9" width="14.3" height="11.4" fill="#b0000c"/>
<rect x="1814.3" y="536.9" width="8.4" height="11.4" fill="#7d0008"/>
<rect x="1822.5" y="536.9" width="5.4" height="7.3" fill="#055000"/>
<rect x="1822.5" y="544" width="5.4" height="4.3" fill="#7d0008"/>
<rect x="1829.6" y="490.9" width="55.5" height="32.4" fill="#055000"/>
<rect x="1829.6" y="523.2" width="33.1" height="25.1" fill="#7d0008"/>
<rect x="1862.6" y="523.2" width="22.5" height="14.4" fill="#1c8004"/>
<rect x="1862.6" y="537.5" width="12.4" height="10.8" fill="#480003"/>
<rect x="1874.9" y="537.5" width="10.2" height="10.8" fill="#22aa00"/>
<rect x="1693.4" y="570.3" width="54.2" height="51.3" fill="#b0000c"/>
<rect x="1747.1" y="570.3" width="4.2" height="51.3" fill="#b0000c"/>
<rect x="1693.4" y="643.8" width="29.4" height="39.2" fill="#b0000c"/>
<rect x="1722.5" y="643.8" width="28.8" height="39.2" fill="#055000"/>
<rect x="1753.2" y="570.3" width="56.9" height="25.7" fill="#22aa00"/>
<rect x="1810.2" y="570.3" width="8" height="23.5" fill="#480003"/>
<rect x="1810.2" y="593.3" width="8" height="3.2" fill="#22aa00"/>
<rect x="1819.9" y="570.3" width="49.1" height="26.1" fill="#22aa00"/>
<rect x="1869.2" y="570.3" width="15.9" height="17.4" fill="#480003"/>
<rect x="1869.2" y="587.9" width="7.1" height="8.5" fill="#22aa00"/>
<rect x="1876" y="587.9" width="9.1" height="4.1" fill="#22aa00"/>
<rect x="1876" y="592.2" width="9.1" height="4.2" fill="#b0000c"/>
<rect x="1753.2" y="618.5" width="50.7" height="31.6" fill="#b0000c"/>
<rect x="1803.7" y="618.5" width="7.2" height="24" fill="#480003"/>
<rect x="1803.7" y="642.7" width="7.2" height="7.4" fill="#055000"/>
<rect x="1812.9" y="618.5" width="18.9" height="16.3" fill="#7d0008"/>
<rect x="1831.5" y="618.5" width="14.1" height="16.3" fill="#22aa00"/>
<rect x="1845.3" y="618.5" width="13.9" height="14.1" fill="#22aa00"/>
<rect x="1861.1" y="618.5" width="24" height="16.3" fill="#22aa00"/>
<rect x="1753.2" y="672.3" width="30.3" height="10.7" fill="#480003"/>
<rect x="1783.3" y="672.3" width="12.5" height="10.7" fill="#7d0008"/>
<rect x="1795.8" y="672.3" width="10.7" height="10.7" fill="#7d0008"/>
<rect x="1806.3" y="672.3" width="4.6" height="10.7" fill="#22aa00"/>
<rect x="1812.9" y="656.5" width="21.1" height="3.5" fill="#1c8004"/>
<rect x="1833.7" y="656.5" width="15.3" height="3.5" fill="#7d0008"/>
<rect x="1851.2" y="677" width="10.4" height="6" fill="#22aa00"/>
<rect x="1861.5" y="677" width="7.1" height="6" fill="#1c8004"/>
</g>
<rect x="18.7" y="31" width="164.3" height="190.2" fill="#22aa00"/>
<rect x="18.7" y="223.4" width="164.3" height="176.6" fill="#22aa00"/>
<rect x="185" y="31" width="136" height="137.6" fill="#22aa00"/>
<rect x="323.2" y="31" width="108.8" height="137.6" fill="#22aa00"/>
<rect x="434.2" y="31" width="92.8" height="137.6" fill="#22aa00"/>
<rect x="185" y="170.6" width="112" height="84.4" fill="#22aa00"/>
<rect x="299" y="170.6" width="94" height="75.1" fill="#22aa00"/>
<rect x="395" y="170.6" width="76.7" height="75.1" fill="#22aa00"/>
<rect x="473.8" y="170.6" width="53.2" height="75.1" fill="#22aa00"/>
<rect x="185" y="257.2" width="112" height="70.4" fill="#b0000c"/>
<rect x="185" y="330" width="112" height="70" fill="#1c8004"/>
<rect x="299" y="247.8" width="55" height="53.2" fill="#7d0008"/>
<rect x="355.7" y="247.8" width="42.3" height="55.7" fill="#22aa00"/>
<rect x="400" y="247.8" width="45.3" height="30.8" fill="#22aa00"/>
<rect x="447.2" y="247.8" width="41.1" height="30.8" fill="#1c8004"/>
<rect x="490.3" y="247.8" width="36.7" height="30.8" fill="#22aa00"/>
<rect x="400" y="281" width="33.6" height="29.8" fill="#480003"/>
<rect x="435.1" y="281" width="30.3" height="27" fill="#055000"/>
<rect x="467" y="281" width="30" height="27" fill="#b0000c"/>
<rect x="498.9" y="281" width="28.1" height="27" fill="#7d0008"/>
<rect x="299" y="303" width="55" height="50.8" fill="#22aa00"/>
<rect x="299" y="356" width="55" height="44" fill="#22aa00"/>
<rect x="355.7" y="305.5" width="42.3" height="50.1" fill="#22aa00"/>
<rect x="355.7" y="357.7" width="42.3" height="42.3" fill="#22aa00"/>
<rect x="400" y="312.8" width="33.6" height="29.4" fill="#055000"/>
<rect x="400" y="344.2" width="33.6" height="27.7" fill="#480003"/>
<rect x="400" y="373.8" width="33.6" height="26.2" fill="#b0000c"/>
<rect x="435.1" y="310" width="26.3" height="22.4" fill="#480003"/>
<rect x="463" y="310" width="22" height="21.5" fill="#055000"/>
<rect x="486.9" y="310" width="20.1" height="21.5" fill="#1c8004"/>
<rect x="508.6" y="310" width="18.4" height="21.5" fill="#22aa00"/>
<rect x="435.1" y="334.4" width="26.3" height="21.3" fill="#22aa00"/>
<rect x="463" y="333.4" width="20.9" height="18" fill="#7d0008"/>
<rect x="485.7" y="333.4" width="20.1" height="18" fill="#1c8004"/>
<rect x="507.4" y="333.4" width="19.6" height="18" fill="#480003"/>
<rect x="435.1" y="357.6" width="26.3" height="21" fill="#22aa00"/>
<rect x="463" y="353.3" width="14.5" height="23.6" fill="#22aa00"/>
<rect x="479.2" y="353.3" width="20.7" height="15.2" fill="#22aa00"/>
<rect x="501.8" y="353.3" width="12.8" height="18.9" fill="#480003"/>
<rect x="516.5" y="353.3" width="10.5" height="18.9" fill="#1c8004"/>
<rect x="435.1" y="380.5" width="26.3" height="19.5" fill="#22aa00"/>
<rect x="463" y="378.8" width="14.5" height="21.2" fill="#055000"/>
<rect x="479.2" y="370.4" width="20.7" height="14.1" fill="#7d0008"/>
<rect x="501.8" y="373.8" width="12.2" height="11.1" fill="#480003"/>
<rect x="516.5" y="374" width="10.5" height="10.9" fill="#22aa00"/>
<rect x="479.2" y="386.4" width="20.7" height="13.6" fill="#7d0008"/>
<rect x="501.8" y="386.4" width="6.8" height="13.6" fill="#22aa00"/>
<rect x="510.9" y="386.4" width="11.1" height="6.9" fill="#22aa00"/>
<rect x="510.9" y="395.2" width="11.1" height="4.8" fill="#22aa00"/>
<rect x="523.9" y="386.4" width="3.1" height="13.6" fill="#b0000c"/>
<rect x="18.7" y="424" width="186.9" height="258" fill="#22aa00"/>
<rect x="207.8" y="424" width="138.8" height="190.5" fill="#22aa00"/>
<rect x="207.8" y="616.6" width="138.8" height="65.4" fill="#22aa00"/>
<rect x="348.5" y="424" width="70.1" height="62.5" fill="#22aa00"/>
<rect x="420.6" y="424" width="55.1" height="62.5" fill="#22aa00"/>
<rect x="477.8" y="424" width="49.2" height="62.5" fill="#480003"/>
<rect x="348.5" y="488.3" width="58.5" height="47.1" fill="#22aa00"/>
<rect x="409" y="488.3" width="58.5" height="47.1" fill="#22aa00"/>
<rect x="469.6" y="488.3" width="57.4" height="47.1" fill="#22aa00"/>
<rect x="348.5" y="537.2" width="48.5" height="49.8" fill="#22aa00"/>
<rect x="348.5" y="589.3" width="48.5" height="48.3" fill="#22aa00"/>
<rect x="348.5" y="640" width="48.5" height="42" fill="#7d0008"/>
<rect x="399" y="537.2" width="44.4" height="36.8" fill="#22aa00"/>
<rect x="445.5" y="537.2" width="39.8" height="36.8" fill="#22aa00"/>
<rect x="487.2" y="537.2" width="39.8" height="36.8" fill="#22aa00"/>
<rect x="399" y="576.4" width="32.5" height="36.2" fill="#22aa00"/>
<rect x="399" y="615" width="32.5" height="35.3" fill="#1c8004"/>
<rect x="399" y="652.7" width="32.5" height="29.3" fill="#22aa00"/>
<rect x="433.5" y="576.4" width="31.3" height="27" fill="#22aa00"/>
<rect x="467.2" y="576.4" width="30.1" height="27" fill="#22aa00"/>
<rect x="499.2" y="576.4" width="27.8" height="27" fill="#22aa00"/>
<rect x="433.5" y="605.3" width="26" height="27.7" fill="#22aa00"/>
<rect x="433.5" y="635.2" width="26" height="26" fill="#22aa00"/>
<rect x="433.5" y="663.6" width="26" height="18.4" fill="#1c8004"/>
<rect x="461.6" y="605.3" width="23.1" height="19.8" fill="#22aa00"/>
<rect x="486.9" y="605.3" width="18.8" height="19.8" fill="#055000"/>
<rect x="508.1" y="605.3" width="18.9" height="19.8" fill="#b0000c"/>
<rect x="461.6" y="627.5" width="18.1" height="16.8" fill="#22aa00"/>
<rect x="482.1" y="627.5" width="14.7" height="16.8" fill="#055000"/>
<rect x="498.9" y="627.5" width="14" height="16.8" fill="#22aa00"/>
<rect x="515.3" y="627.5" width="11.7" height="16.8" fill="#22aa00"/>
<rect x="461.6" y="646.7" width="18.1" height="19.3" fill="#22aa00"/>
<rect x="482.1" y="646.3" width="15.2" height="11.3" fill="#7d0008"/>
<rect x="499.7" y="646.3" width="13.2" height="11.3" fill="#480003"/>
<rect x="515.3" y="646.3" width="11.7" height="11.3" fill="#22aa00"/>
<rect x="482.1" y="660" width="15.2" height="10.3" fill="#b0000c"/>
<rect x="499.7" y="660" width="11.3" height="10.3" fill="#22aa00"/>
<rect x="513.4" y="660.4" width="13.6" height="6.3" fill="#1c8004"/>
<rect x="461.6" y="668" width="18.8" height="14" fill="#480003"/>
<rect x="482.3" y="672.5" width="15" height="9.5" fill="#22aa00"/>
<rect x="499.7" y="672.5" width="11.3" height="9.5" fill="#22aa00"/>
<rect x="513.4" y="669.1" width="6.7" height="6.5" fill="#7d0008"/>
<rect x="522.5" y="669.1" width="4.5" height="6.5" fill="#055000"/>
<rect x="513.4" y="678" width="6.7" height="4" fill="#480003"/>
<rect x="522.5" y="678" width="4.5" height="4" fill="#22aa00"/>
<rect x="530.9" y="30.9" width="146.6" height="169" fill="#b0000c"/>
<rect x="679.1" y="30.9" width="116" height="169" fill="#22aa00"/>
<rect x="530.9" y="201.7" width="89.7" height="173" fill="#22aa00"/>
<rect x="622.2" y="201.7" width="94.3" height="88.5" fill="#22aa00"/>
<rect x="718.4" y="201.7" width="76.8" height="88.5" fill="#22aa00"/>
<rect x="622.2" y="292.1" width="50.3" height="82.6" fill="#055000"/>
<rect x="674.2" y="292.1" width="48.8" height="82.6" fill="#22aa00"/>
<rect x="724.8" y="292.1" width="70.4" height="50.9" fill="#22aa00"/>
<rect x="724.8" y="344.7" width="21.2" height="30" fill="#22aa00"/>
<rect x="747.8" y="344.7" width="19.1" height="30" fill="#7d0008"/>
<rect x="768.6" y="344.7" width="26.6" height="16.8" fill="#22aa00"/>
<rect x="768.6" y="363.2" width="13.5" height="11.5" fill="#055000"/>
<rect x="783.9" y="363.2" width="11.3" height="5.6" fill="#22aa00"/>
<rect x="783.9" y="370.6" width="11.3" height="4.1" fill="#1c8004"/>
<rect x="530.9" y="398.6" width="144.5" height="114.8" fill="#480003"/>
<rect x="677" y="398.6" width="118.2" height="114.8" fill="#7d0008"/>
<rect x="530.9" y="515.1" width="70" height="84.1" fill="#1c8004"/>
<rect x="602.4" y="515.1" width="60.6" height="87.7" fill="#7d0008"/>
<rect x="664.9" y="515.1" width="68" height="44.6" fill="#055000"/>
<rect x="734.5" y="515.1" width="60.7" height="44.6" fill="#1c8004"/>
<rect x="530.9" y="600.9" width="70" height="81.3" fill="#7d0008"/>
<rect x="602.4" y="604.5" width="60.6" height="77.7" fill="#b0000c"/>
<rect x="664.9" y="561.6" width="37" height="56.4" fill="#480003"/>
<rect x="703.6" y="561.6" width="32.1" height="29.3" fill="#22aa00"/>
<rect x="737.6" y="561.6" width="30.4" height="29.3" fill="#7d0008"/>
<rect x="769.9" y="561.6" width="25.3" height="29.3" fill="#7d0008"/>
<rect x="664.9" y="619.9" width="37" height="32.6" fill="#b0000c"/>
<rect x="664.9" y="654.4" width="37" height="27.8" fill="#b0000c"/>
<rect x="703.6" y="592.8" width="22.9" height="29.9" fill="#055000"/>
<rect x="728.4" y="592.8" width="24.1" height="25.7" fill="#1c8004"/>
<rect x="754.4" y="592.8" width="19.4" height="25.7" fill="#b0000c"/>
<rect x="775.6" y="592.8" width="19.5" height="25.7" fill="#22aa00"/>
<rect x="703.6" y="624.2" width="22.9" height="28.2" fill="#055000"/>
<rect x="703.6" y="654.4" width="22.9" height="27.8" fill="#22aa00"/>
<rect x="728.4" y="620.4" width="23" height="20.2" fill="#b0000c"/>
<rect x="728.4" y="642.5" width="23" height="19.7" fill="#b0000c"/>
<rect x="728.4" y="664.1" width="23" height="18.1" fill="#22aa00"/>
<rect x="753.2" y="620.4" width="23" height="17.5" fill="#b0000c"/>
<rect x="778.1" y="620.4" width="17" height="17.5" fill="#22aa00"/>
<rect x="753.2" y="639.8" width="20.5" height="12.7" fill="#055000"/>
<rect x="775.6" y="639.8" width="19.5" height="12.7" fill="#055000"/>
<rect x="753.2" y="654.6" width="15.5" height="13.6" fill="#22aa00"/>
<rect x="770.6" y="654.6" width="11.9" height="15.5" fill="#7d0008"/>
<rect x="784.5" y="654.6" width="10.7" height="15.5" fill="#055000"/>
<rect x="753.2" y="669.9" width="15.5" height="12.3" fill="#7d0008"/>
<rect x="770.6" y="672.1" width="7.8" height="10.1" fill="#055000"/>
<rect x="780.4" y="672.1" width="6.4" height="10.1" fill="#480003"/>
<rect x="788.6" y="672.1" width="6.5" height="10.1" fill="#b0000c"/>
<rect x="798.6" y="30.9" width="236.6" height="149" fill="#480003"/>
<rect x="798.6" y="181.8" width="126.4" height="94.7" fill="#b0000c"/>
<rect x="926.9" y="181.8" width="55.3" height="89.2" fill="#7d0008"/>
<rect x="983.6" y="181.8" width="51.5" height="89.2" fill="#7d0008"/>
<rect x="798.6" y="278.4" width="126.4" height="71" fill="#480003"/>
<rect x="926.9" y="273.5" width="42.2" height="75.9" fill="#055000"/>
<rect x="970.9" y="273.5" width="64.3" height="34.3" fill="#480003"/>
<rect x="970.9" y="309.7" width="35.2" height="39.7" fill="#480003"/>
<rect x="1007.6" y="309.7" width="27.5" height="28.9" fill="#7d0008"/>
<rect x="1007.6" y="340.4" width="19.4" height="9" fill="#7d0008"/>
<rect x="1028.6" y="340.4" width="6.5" height="9" fill="#7d0008"/>
<rect x="798.6" y="373.9" width="236.6" height="166.2" fill="#22aa00"/>
<rect x="798.6" y="541.9" width="173.2" height="140.3" fill="#22aa00"/>
<rect x="973.6" y="541.9" width="61.5" height="75.2" fill="#1c8004"/>
<rect x="973.6" y="619" width="61.5" height="28.9" fill="#22aa00"/>
<rect x="973.6" y="649.5" width="24.2" height="32.7" fill="#1c8004"/>
<rect x="999.8" y="649.5" width="23.7" height="32.7" fill="#22aa00"/>
<rect x="1025.3" y="649.5" width="9.8" height="32.7" fill="#055000"/>
<rect x="1039.1" y="30.9" width="126.5" height="231" fill="#1c8004"/>
<rect x="1167.4" y="30.9" width="153.7" height="131.8" fill="#1c8004"/>
<rect x="1167.4" y="164.8" width="90.8" height="50.9" fill="#480003"/>
<rect x="1167.4" y="217.4" width="90.8" height="44.5" fill="#22aa00"/>
<rect x="1259.9" y="164.8" width="61.2" height="42.5" fill="#1c8004"/>
<rect x="1259.9" y="209.2" width="29" height="52.7" fill="#055000"/>
<rect x="1290.6" y="209.2" width="30.5" height="19.7" fill="#1c8004"/>
<rect x="1290.6" y="230.9" width="30.5" height="16.1" fill="#055000"/>
<rect x="1290.6" y="249" width="15.5" height="12.9" fill="#1c8004"/>
<rect x="1307.7" y="249" width="8.2" height="12.9" fill="#22aa00"/>
<rect x="1317.9" y="249" width="3.2" height="12.9" fill="#1c8004"/>
<rect x="1038.9" y="285.3" width="86.5" height="188.2" fill="#22aa00"/>
<rect x="1127" y="285.3" width="49" height="67.6" fill="#22aa00"/>
<rect x="1127" y="354.6" width="49" height="60.9" fill="#b0000c"/>
<rect x="1127" y="417.4" width="49" height="56.1" fill="#22aa00"/>
<rect x="1177.3" y="285.3" width="48.6" height="49" fill="#22aa00"/>
<rect x="1227.9" y="285.3" width="47.3" height="49" fill="#22aa00"/>
<rect x="1277.2" y="285.3" width="44.8" height="49" fill="#22aa00"/>
<rect x="1177.3" y="336.2" width="38.3" height="54.5" fill="#7d0008"/>
<rect x="1177.3" y="392.6" width="38.3" height="41.6" fill="#480003"/>
<rect x="1177.3" y="436.1" width="38.3" height="37.4" fill="#b0000c"/>
<rect x="1217.3" y="336.2" width="36.3" height="31.9" fill="#480003"/>
<rect x="1255.3" y="336.2" width="34.4" height="31.9" fill="#b0000c"/>
<rect x="1291.4" y="336.2" width="30.6" height="31.9" fill="#22aa00"/>
<rect x="1217.3" y="370.1" width="30.5" height="26.4" fill="#22aa00"/>
<rect x="1249.5" y="370.1" width="24.1" height="26.4" fill="#480003"/>
<rect x="1275.3" y="370.1" width="22.5" height="26.4" fill="#22aa00"/>
<rect x="1299.7" y="370.1" width="22.3" height="26.4" fill="#480003"/>
<rect x="1217.3" y="398.7" width="30.5" height="24.8" fill="#480003"/>
<rect x="1217.3" y="425.5" width="30.5" height="23.2" fill="#22aa00"/>
<rect x="1217.3" y="450.6" width="30.5" height="22.9" fill="#1c8004"/>
<rect x="1249.3" y="398" width="24.9" height="17.1" fill="#22aa00"/>
<rect x="1276.1" y="398" width="21.9" height="17.1" fill="#22aa00"/>
<rect x="1300" y="398" width="21.7" height="17.1" fill="#22aa00"/>
<rect x="1249.3" y="417.1" width="18.4" height="18.4" fill="#b0000c"/>
<rect x="1269.7" y="417.1" width="16.7" height="16.1" fill="#22aa00"/>
<rect x="1288.1" y="417.1" width="15.7" height="16.1" fill="#b0000c"/>
<rect x="1305.8" y="417.1" width="15.9" height="16.1" fill="#7d0008"/>
<rect x="1249.3" y="437.3" width="18.4" height="17.6" fill="#055000"/>
<rect x="1269.7" y="435.1" width="11.9" height="20.3" fill="#7d0008"/>
<rect x="1283.2" y="435.1" width="13.5" height="12.5" fill="#22aa00"/>
<rect x="1298.4" y="435.1" width="11.6" height="12.5" fill="#22aa00"/>
<rect x="1311.9" y="435.1" width="9.8" height="12.5" fill="#b0000c"/>
<rect x="1249.3" y="457" width="18.4" height="16.2" fill="#055000"/>
<rect x="1269.7" y="457" width="11.9" height="16.2" fill="#1c8004"/>
<rect x="1283.2" y="449.7" width="9.9" height="11.6" fill="#22aa00"/>
<rect x="1295.2" y="449.7" width="7.7" height="11.6" fill="#22aa00"/>
<rect x="1305.1" y="449.7" width="7.4" height="9.7" fill="#055000"/>
<rect x="1314.4" y="449.7" width="7.3" height="9.7" fill="#1c8004"/>
<rect x="1283.2" y="463.2" width="9.9" height="10" fill="#22aa00"/>
<rect x="1295.2" y="463.2" width="7.7" height="10" fill="#7d0008"/>
<rect x="1305.1" y="461.3" width="7.4" height="4.8" fill="#22aa00"/>
<rect x="1314.4" y="461.3" width="7.3" height="4.8" fill="#480003"/>
<rect x="1305.1" y="468.3" width="7.4" height="4.9" fill="#22aa00"/>
<rect x="1314.4" y="468.3" width="7.3" height="4.9" fill="#22aa00"/>
<rect x="1038.9" y="496.7" width="87.7" height="185.6" fill="#b0000c"/>
<rect x="1128" y="496.7" width="68.1" height="93.6" fill="#b0000c"/>
<rect x="1128" y="592.3" width="68.1" height="90" fill="#22aa00"/>
<rect x="1197.9" y="496.7" width="84.6" height="56.7" fill="#1c8004"/>
<rect x="1284.2" y="496.7" width="37.9" height="56.7" fill="#055000"/>
<rect x="1197.9" y="555.1" width="43.4" height="40.1" fill="#b0000c"/>
<rect x="1243.4" y="555.1" width="28.6" height="40.1" fill="#7d0008"/>
<rect x="1274" y="555.1" width="22.7" height="40.1" fill="#480003"/>
<rect x="1298.4" y="555.1" width="23.7" height="40.1" fill="#22aa00"/>
<rect x="1197.9" y="596.9" width="27.6" height="27.4" fill="#1c8004"/>
<rect x="1197.9" y="626.6" width="27.6" height="28" fill="#055000"/>
<rect x="1197.9" y="656.6" width="27.6" height="25.7" fill="#b0000c"/>
<rect x="1227.5" y="596.9" width="22.1" height="31.3" fill="#22aa00"/>
<rect x="1227.5" y="630.2" width="22.1" height="26" fill="#7d0008"/>
<rect x="1227.5" y="658.3" width="22.1" height="24" fill="#22aa00"/>
<rect x="1251.3" y="596.9" width="24" height="20.8" fill="#22aa00"/>
<rect x="1277" y="596.9" width="22" height="20.8" fill="#b0000c"/>
<rect x="1300.7" y="596.9" width="21.4" height="20.8" fill="#055000"/>
<rect x="1251.3" y="619.9" width="17.7" height="22.9" fill="#1c8004"/>
<rect x="1251.3" y="645.1" width="17.7" height="19" fill="#055000"/>
<rect x="1251.3" y="666" width="17.7" height="16" fill="#22aa00"/>
<rect x="1271.2" y="619.9" width="16.5" height="17.1" fill="#22aa00"/>
<rect x="1289.4" y="619.9" width="15.5" height="17.1" fill="#b0000c"/>
<rect x="1306.7" y="619.9" width="15.1" height="17.1" fill="#480003"/>
<rect x="1271.2" y="638.9" width="16.5" height="14.2" fill="#22aa00"/>
<rect x="1289.4" y="638.9" width="10.6" height="14.2" fill="#480003"/>
<rect x="1301.6" y="638.9" width="9.3" height="14.2" fill="#055000"/>
<rect x="1312.6" y="638.9" width="9.2" height="14.2" fill="#22aa00"/>
<rect x="1271.2" y="655.1" width="16.5" height="14.1" fill="#480003"/>
<rect x="1289.4" y="655.1" width="8.2" height="12.9" fill="#1c8004"/>
<rect x="1299.3" y="655.1" width="11.4" height="9" fill="#055000"/>
<rect x="1312.6" y="655.1" width="9.2" height="9" fill="#22aa00"/>
<rect x="1271.2" y="671.2" width="16.5" height="10.8" fill="#480003"/>
<rect x="1289.4" y="669.6" width="8.2" height="12.4" fill="#055000"/>
<rect x="1299.3" y="666" width="10.3" height="6.9" fill="#1c8004"/>
<rect x="1311.2" y="666" width="10.6" height="6.9" fill="#480003"/>
<rect x="1299.3" y="674.8" width="10.3" height="7.2" fill="#22aa00"/>
<rect x="1311.2" y="674.8" width="6.5" height="7.2" fill="#1c8004"/>
<rect x="1319.3" y="674.8" width="2.5" height="7.2" fill="#480003"/>
<rect x="1324.7" y="30.6" width="92" height="194.3" fill="#b0000c"/>
<rect x="1418" y="30.6" width="87.9" height="74.7" fill="#1c8004"/>
<rect x="1507.9" y="30.6" width="33.7" height="74.7" fill="#7d0008"/>
<rect x="1418" y="107.4" width="51.9" height="39.5" fill="#b0000c"/>
<rect x="1418" y="148.5" width="51.9" height="39.8" fill="#7d0008"/>
<rect x="1418" y="189.8" width="51.9" height="35.1" fill="#22aa00"/>
<rect x="1471.6" y="107.4" width="34.3" height="49.6" fill="#480003"/>
<rect x="1507.9" y="107.4" width="33.7" height="49.6" fill="#1c8004"/>
<rect x="1471.6" y="158.6" width="20.9" height="33" fill="#b0000c"/>
<rect x="1471.6" y="193.2" width="20.9" height="31.7" fill="#480003"/>
<rect x="1494.5" y="158.6" width="23.6" height="21.3" fill="#22aa00"/>
<rect x="1519.7" y="158.6" width="21.9" height="21.3" fill="#b0000c"/>
<rect x="1494.5" y="181.5" width="13.5" height="22.6" fill="#055000"/>
<rect x="1494.5" y="205.7" width="13.5" height="19.3" fill="#b0000c"/>
<rect x="1509.6" y="181.5" width="15.8" height="15.2" fill="#22aa00"/>
<rect x="1527.1" y="181.5" width="14.5" height="15.2" fill="#7d0008"/>
<rect x="1509.6" y="198.3" width="15.8" height="11.8" fill="#22aa00"/>
<rect x="1527.1" y="198.3" width="14.5" height="11.8" fill="#22aa00"/>
<rect x="1509.6" y="211.8" width="15.8" height="13.2" fill="#055000"/>
<rect x="1527.1" y="211.8" width="14.5" height="13.2" fill="#22aa00"/>
<rect x="1544.4" y="30.6" width="61.4" height="48.9" fill="#480003"/>
<rect x="1607.4" y="30.6" width="54" height="48.9" fill="#b0000c"/>
<rect x="1663" y="30.6" width="52.3" height="48.9" fill="#b0000c"/>
<rect x="1544.4" y="81.2" width="47.9" height="51.6" fill="#7d0008"/>
<rect x="1594" y="81.2" width="40.4" height="41.2" fill="#055000"/>
<rect x="1636.1" y="81.2" width="39.4" height="41.2" fill="#b0000c"/>
<rect x="1677.2" y="81.2" width="38.1" height="41.2" fill="#22aa00"/>
<rect x="1544.4" y="134.5" width="47.9" height="51.2" fill="#b0000c"/>
<rect x="1544.4" y="187.3" width="47.9" height="37.6" fill="#22aa00"/>
<rect x="1594" y="124.4" width="33" height="39.4" fill="#7d0008"/>
<rect x="1594" y="165.5" width="33" height="29.6" fill="#b0000c"/>
<rect x="1594" y="196.8" width="33" height="28.2" fill="#b0000c"/>
<rect x="1628.7" y="124.4" width="30.3" height="28.3" fill="#22aa00"/>
<rect x="1660.7" y="124.4" width="27" height="28.3" fill="#22aa00"/>
<rect x="1689.2" y="124.4" width="26" height="28.3" fill="#22aa00"/>
<rect x="1628.8" y="154" width="19.9" height="34.9" fill="#22aa00"/>
<rect x="1628.8" y="191" width="19.9" height="33.6" fill="#7d0008"/>
<rect x="1650.3" y="154" width="21.8" height="17.6" fill="#7d0008"/>
<rect x="1674" y="154" width="20" height="17.6" fill="#22aa00"/>
<rect x="1695.9" y="154" width="19" height="17.6" fill="#480003"/>
<rect x="1650.3" y="173.3" width="19.7" height="17" fill="#7d0008"/>
<rect x="1671.6" y="173.3" width="21.5" height="13.3" fill="#055000"/>
<rect x="1694.9" y="173.3" width="20" height="13.3" fill="#480003"/>
<rect x="1650.3" y="192.2" width="19.7" height="15.4" fill="#480003"/>
<rect x="1650.3" y="209.4" width="19.7" height="15.2" fill="#7d0008"/>
<rect x="1671.6" y="188.7" width="12.6" height="20.1" fill="#b0000c"/>
<rect x="1671.6" y="210.7" width="12.6" height="13.9" fill="#480003"/>
<rect x="1686" y="188.7" width="14" height="12.3" fill="#22aa00"/>
<rect x="1701.8" y="188.7" width="13.1" height="12.3" fill="#b0000c"/>
<rect x="1686" y="202.9" width="13.2" height="11.8" fill="#480003"/>
<rect x="1686" y="216.6" width="13.2" height="8" fill="#7d0008"/>
<rect x="1701.1" y="202.9" width="6.5" height="8.4" fill="#480003"/>
<rect x="1709.2" y="202.9" width="5.7" height="8.4" fill="#22aa00"/>
<rect x="1701.1" y="213.1" width="7.5" height="4.9" fill="#b0000c"/>
<rect x="1710" y="213.1" width="4.9" height="4.9" fill="#055000"/>
<rect x="1701.1" y="219.9" width="7.5" height="4.7" fill="#b0000c"/>
<rect x="1710" y="219.9" width="4.9" height="1.6" fill="#7d0008"/>
<rect x="1710" y="223" width="4.9" height="1.6" fill="#055000"/>
<rect x="1718.8" y="30.6" width="165.7" height="96" fill="#055000"/>
<rect x="1718.8" y="128.7" width="53.9" height="96.3" fill="#055000"/>
<rect x="1774.4" y="128.7" width="47.1" height="59.3" fill="#1c8004"/>
<rect x="1774.4" y="190" width="47.1" height="35" fill="#480003"/>
<rect x="1823.2" y="128.7" width="32" height="44.5" fill="#b0000c"/>
<rect x="1856.9" y="128.7" width="27.6" height="44.5" fill="#1c8004"/>
<rect x="1823.2" y="174.8" width="26.6" height="28.7" fill="#7d0008"/>
<rect x="1823.2" y="205.2" width="26.6" height="19.8" fill="#b0000c"/>
<rect x="1851.8" y="174.8" width="19.3" height="24.3" fill="#480003"/>
<rect x="1872.7" y="174.8" width="11.8" height="24.3" fill="#480003"/>
<rect x="1851.8" y="200.8" width="19.3" height="12.5" fill="#b0000c"/>
<rect x="1872.7" y="200.8" width="11.8" height="11.1" fill="#b0000c"/>
<rect x="1851.8" y="215.2" width="19.3" height="9.7" fill="#7d0008"/>
<rect x="1872.7" y="213.6" width="7.8" height="11.4" fill="#055000"/>
<rect x="1881.2" y="213.7" width="3.2" height="5.7" fill="#b0000c"/>
<rect x="1881.2" y="220.7" width="3.2" height="4.3" fill="#22aa00"/>
<rect x="1325" y="248.7" width="85.8" height="71.5" fill="#22aa00"/>
<rect x="1412.7" y="248.7" width="53.8" height="71.5" fill="#22aa00"/>
<rect x="1325" y="322" width="54.9" height="51" fill="#480003"/>
<rect x="1381.7" y="322" width="41.7" height="47.4" fill="#1c8004"/>
<rect x="1425" y="322" width="41.5" height="47.4" fill="#22aa00"/>
<rect x="1325" y="375" width="54.9" height="41.2" fill="#22aa00"/>
<rect x="1325" y="417.9" width="54.9" height="37" fill="#7d0008"/>
<rect x="1381.6" y="371.5" width="41.6" height="46.4" fill="#22aa00"/>
<rect x="1381.6" y="419.6" width="41.6" height="35.3" fill="#22aa00"/>
<rect x="1424.9" y="371.5" width="41.6" height="24.1" fill="#b0000c"/>
<rect x="1424.9" y="397.5" width="41.6" height="21.3" fill="#b0000c"/>
<rect x="1424.9" y="420.5" width="16.5" height="16.5" fill="#7d0008"/>
<rect x="1424.9" y="439" width="16.5" height="15.9" fill="#1c8004"/>
<rect x="1443.5" y="420.5" width="11.5" height="19.4" fill="#22aa00"/>
<rect x="1456.9" y="420.5" width="9.6" height="19.4" fill="#22aa00"/>
<rect x="1443.5" y="442" width="7.7" height="12.9" fill="#22aa00"/>
<rect x="1453.2" y="442" width="6.2" height="12.9" fill="#1c8004"/>
<rect x="1461.2" y="442" width="5.3" height="12.9" fill="#1c8004"/>
<rect x="1469.7" y="248.7" width="79.8" height="76.7" fill="#055000"/>
<rect x="1551.1" y="248.7" width="30.9" height="45.1" fill="#7d0008"/>
<rect x="1583.9" y="248.7" width="28.2" height="45.1" fill="#dd0014"/>
<rect x="1551.1" y="295.6" width="31.6" height="32.8" fill="#7d0008"/>
<rect x="1584.6" y="295.6" width="27.5" height="32.8" fill="#22aa00"/>
<rect x="1469.7" y="327" width="79.8" height="44.7" fill="#22aa00"/>
<rect x="1551.3" y="330" width="20.7" height="41.7" fill="#22aa00"/>
<rect x="1573.6" y="330" width="20.6" height="21.8" fill="#b0000c"/>
<rect x="1596" y="330" width="16.1" height="21.8" fill="#480003"/>
<rect x="1573.6" y="353.6" width="13" height="18.1" fill="#b0000c"/>
<rect x="1588.5" y="353.6" width="14.4" height="9.6" fill="#22aa00"/>
<rect x="1604.5" y="353.6" width="7.6" height="9.6" fill="#480003"/>
<rect x="1588.5" y="365.5" width="14.4" height="6.2" fill="#22aa00"/>
<rect x="1604.5" y="365.5" width="7.6" height="6.2" fill="#22aa00"/>
<rect x="1615.9" y="248.7" width="139.4" height="123" fill="#7d0008"/>
<rect x="1758.7" y="248.7" width="56.2" height="123" fill="#22aa00"/>
<rect x="1816.7" y="248.7" width="67.4" height="37.1" fill="#b0000c"/>
<rect x="1816.7" y="287.6" width="37.8" height="45.2" fill="#22aa00"/>
<rect x="1856.3" y="287.6" width="27.8" height="45.2" fill="#22aa00"/>
<rect x="1816.7" y="334.6" width="27.5" height="21.1" fill="#b0000c"/>
<rect x="1816.7" y="357.5" width="27.5" height="14.2" fill="#22aa00"/>
<rect x="1846.3" y="334.6" width="20.6" height="18.8" fill="#480003"/>
<rect x="1846.3" y="355.2" width="20.6" height="16.5" fill="#22aa00"/>
<rect x="1868.5" y="334.6" width="15.6" height="14.9" fill="#b0000c"/>
<rect x="1868.5" y="351.3" width="15.6" height="10.3" fill="#055000"/>
<rect x="1868.5" y="363.7" width="11.7" height="8" fill="#22aa00"/>
<rect x="1882" y="363.7" width="2.1" height="8" fill="#b0000c"/>
<rect x="1470.1" y="395.2" width="53.5" height="48.6" fill="#22aa00"/>
<rect x="1470.1" y="446.1" width="53.5" height="44.6" fill="#22aa00"/>
<rect x="1525.4" y="395.2" width="66.7" height="35.6" fill="#22aa00"/>
<rect x="1525.4" y="433" width="29.5" height="28.5" fill="#1c8004"/>
<rect x="1525.4" y="463.4" width="29.5" height="27.3" fill="#22aa00"/>
<rect x="1556.5" y="433" width="35.6" height="18.1" fill="#7d0008"/>
<rect x="1556.5" y="452.9" width="18.7" height="15.1" fill="#22aa00"/>
<rect x="1577" y="452.9" width="15.1" height="15.1" fill="#b0000c"/>
<rect x="1556.5" y="469.9" width="10.5" height="20.8" fill="#7d0008"/>
<rect x="1568.8" y="469.9" width="9.7" height="20.8" fill="#b0000c"/>
<rect x="1580" y="469.9" width="12.1" height="16.2" fill="#22aa00"/>
<rect x="1580" y="488" width="12.1" height="2.7" fill="#1c8004"/>
<rect x="1595.8" y="395.2" width="62.8" height="72.6" fill="#055000"/>
<rect x="1660.1" y="395.2" width="40" height="62.6" fill="#480003"/>
<rect x="1660.1" y="459.7" width="40" height="8.1" fill="#055000"/>
<rect x="1703.4" y="395.2" width="55" height="72.7" fill="#1c8004"/>
<rect x="1760.2" y="395.2" width="39.3" height="29.1" fill="#22aa00"/>
<rect x="1760.2" y="426.2" width="39.3" height="20.3" fill="#1c8004"/>
<rect x="1760.2" y="448.3" width="17.3" height="19.6" fill="#22aa00"/>
<rect x="1779.4" y="448.3" width="11.7" height="19.6" fill="#22aa00"/>
<rect x="1792.8" y="448.3" width="6.7" height="11.4" fill="#480003"/>
<rect x="1792.8" y="461.5" width="6.7" height="6.4" fill="#22aa00"/>
<rect x="1803.1" y="395.2" width="33.7" height="25.7" fill="#480003"/>
<rect x="1838.4" y="395.2" width="23.3" height="27.2" fill="#480003"/>
<rect x="1863.6" y="395.2" width="20.5" height="27.2" fill="#1c8004"/>
<rect x="1803.1" y="422.8" width="33.7" height="22.4" fill="#480003"/>
<rect x="1803.1" y="447" width="33.7" height="20.9" fill="#22aa00"/>
<rect x="1838.4" y="424.7" width="20.5" height="23.8" fill="#22aa00"/>
<rect x="1838.4" y="450.4" width="20.5" height="17.5" fill="#1c8004"/>
<rect x="1861" y="424.7" width="23.1" height="15.4" fill="#22aa00"/>
<rect x="1861" y="442" width="15.3" height="12.5" fill="#480003"/>
<rect x="1878.1" y="442" width="6" height="12.5" fill="#22aa00"/>
<rect x="1861" y="456.3" width="8.7" height="5.2" fill="#22aa00"/>
<rect x="1871.6" y="456.3" width="6.9" height="6" fill="#055000"/>
<rect x="1880" y="456.3" width="4.1" height="3.7" fill="#480003"/>
<rect x="1861" y="463.4" width="8.7" height="4.5" fill="#7d0008"/>
<rect x="1871.6" y="464" width="6.9" height="3.9" fill="#22aa00"/>
<rect x="1880" y="462" width="4.1" height="3" fill="#055000"/>
<rect x="1880" y="466.5" width="4.1" height="1.4" fill="#7d0008"/>
<rect x="1470.1" y="514.8" width="47.5" height="40.4" fill="#22aa00"/>
<rect x="1470.1" y="557.1" width="47.5" height="30.7" fill="#b0000c"/>
<rect x="1519.3" y="514.8" width="38.2" height="29.3" fill="#7d0008"/>
<rect x="1559" y="514.8" width="33.1" height="29.3" fill="#b0000c"/>
<rect x="1519.3" y="545.9" width="26.1" height="20.9" fill="#7d0008"/>
<rect x="1547.2" y="545.9" width="16" height="20.9" fill="#480003"/>
<rect x="1565.1" y="545.9" width="14.9" height="19.2" fill="#7d0008"/>
<rect x="1581.7" y="545.9" width="10.4" height="19.2" fill="#22aa00"/>
<rect x="1519.3" y="568.8" width="26.1" height="19" fill="#22aa00"/>
<rect x="1547.2" y="568.8" width="16" height="19" fill="#22aa00"/>
<rect x="1565.1" y="567.3" width="13.4" height="12.1" fill="#22aa00"/>
<rect x="1565.1" y="581.3" width="13.4" height="6.5" fill="#480003"/>
<rect x="1580.4" y="567.3" width="11.7" height="5.2" fill="#055000"/>
<rect x="1580.4" y="574.8" width="5.2" height="8" fill="#22aa00"/>
<rect x="1587.4" y="574.8" width="4.7" height="8" fill="#1c8004"/>
<rect x="1580.4" y="584.6" width="7.6" height="3.2" fill="#b0000c"/>
<rect x="1589.8" y="584.6" width="2.3" height="3.2" fill="#b0000c"/>
<rect x="1595.8" y="491.9" width="31.1" height="51.2" fill="#b0000c"/>
<rect x="1628.8" y="491.9" width="26" height="28.5" fill="#22aa00"/>
<rect x="1628.8" y="522.3" width="26" height="20.8" fill="#b0000c"/>
<rect x="1656.7" y="491.9" width="19.2" height="20.9" fill="#22aa00"/>
<rect x="1677.7" y="491.9" width="13.4" height="20.9" fill="#480003"/>
<rect x="1656.7" y="514.8" width="16.8" height="13.1" fill="#b0000c"/>
<rect x="1675.3" y="514.8" width="15.8" height="11" fill="#22aa00"/>
<rect x="1656.7" y="530.1" width="16.8" height="13" fill="#dd0014"/>
<rect x="1675.3" y="527.7" width="9.7" height="15.4" fill="#22aa00"/>
<rect x="1686.9" y="527.7" width="4.2" height="15.4" fill="#480003"/>
<rect x="1595.8" y="567.3" width="40.4" height="25.3" fill="#055000"/>
<rect x="1595.8" y="594.7" width="40.4" height="22.2" fill="#b0000c"/>
<rect x="1638.1" y="567.3" width="20.3" height="25.3" fill="#7d0008"/>
<rect x="1638.1" y="594.7" width="20.3" height="22.2" fill="#1c8004"/>
<rect x="1660.1" y="567.3" width="14.5" height="17.9" fill="#480003"/>
<rect x="1676.9" y="567.3" width="14.2" height="17.9" fill="#055000"/>
<rect x="1660.1" y="587.7" width="17.5" height="14.1" fill="#b0000c"/>
<rect x="1679.3" y="587.7" width="11.8" height="12" fill="#055000"/>
<rect x="1660.1" y="604.1" width="17.5" height="12.8" fill="#b0000c"/>
<rect x="1679.3" y="601.8" width="11.8" height="9.3" fill="#22aa00"/>
<rect x="1679.3" y="613.4" width="11.8" height="3.5" fill="#480003"/>
<rect x="1595.8" y="641.1" width="78.4" height="40.9" fill="#22aa00"/>
<rect x="1676.3" y="641.1" width="14.8" height="16.2" fill="#22aa00"/>
<rect x="1676.3" y="659.6" width="14.8" height="7.9" fill="#055000"/>
<rect x="1676.3" y="669.6" width="7.4" height="12.4" fill="#b0000c"/>
<rect x="1685.5" y="669.6" width="5.6" height="12.4" fill="#22aa00"/>
<rect x="1470.1" y="612" width="47.6" height="70" fill="#055000"/>
<rect x="1519.9" y="612" width="37.8" height="34" fill="#480003"/>
<rect x="1559.7" y="612" width="32.4" height="34" fill="#480003"/>
<rect x="1519.9" y="648.1" width="37.8" height="33.9" fill="#055000"/>
<rect x="1559.7" y="648.1" width="15.7" height="12" fill="#055000"/>
<rect x="1577.3" y="648.1" width="14.8" height="12" fill="#1c8004"/>
<rect x="1559.7" y="662.2" width="17.6" height="9.4" fill="#1c8004"/>
<rect x="1559.7" y="673.7" width="17.6" height="8.3" fill="#1c8004"/>
<rect x="1579.4" y="662.2" width="5.3" height="8" fill="#055000"/>
<rect x="1586.8" y="662.2" width="5.3" height="8" fill="#1c8004"/>
<rect x="1579.4" y="672.4" width="7.9" height="3.9" fill="#1c8004"/>
<rect x="1579.4" y="679" width="7.9" height="3" fill="#055000"/>
<rect x="1589.5" y="672.4" width="2.6" height="9.6" fill="#22aa00"/>
<rect x="1324.8" y="478" width="74.4" height="61.7" fill="#b0000c"/>
<rect x="1401.5" y="478.2" width="65" height="61.3" fill="#480003"/>
<rect x="1324.8" y="541.8" width="40.4" height="44.9" fill="#22aa00"/>
<rect x="1324.8" y="588.7" width="40.4" height="31.7" fill="#055000"/>
<rect x="1324.8" y="622.8" width="40.4" height="31.7" fill="#480003"/>
<rect x="1324.8" y="656.5" width="40.4" height="25.7" fill="#055000"/>
<rect x="1366.8" y="541.8" width="32.4" height="26.4" fill="#1c8004"/>
<rect x="1401.5" y="542" width="31.3" height="26" fill="#ff0019"/>
<rect x="1435.2" y="542" width="31.3" height="26" fill="#055000"/>
<rect x="1366.8" y="570.3" width="27.2" height="28.6" fill="#b0000c"/>
<rect x="1396.3" y="570.5" width="22.6" height="28.2" fill="#22aa00"/>
<rect x="1421.3" y="570.5" width="21.9" height="28.2" fill="#1c8004"/>
<rect x="1445.7" y="570.5" width="20.8" height="28.2" fill="#22aa00"/>
<rect x="1366.8" y="600.9" width="22.7" height="26.5" fill="#055000"/>
<rect x="1366.8" y="629.8" width="22.7" height="24.7" fill="#22aa00"/>
<rect x="1366.8" y="656.5" width="22.7" height="25.7" fill="#7d0008"/>
<rect x="1391.2" y="600.9" width="25.8" height="19.2" fill="#b0000c"/>
<rect x="1418.4" y="600.9" width="24.1" height="19.2" fill="#22aa00"/>
<rect x="1444.1" y="600.9" width="22.4" height="19.2" fill="#1c8004"/>
<rect x="1391.2" y="622.2" width="18.5" height="20.2" fill="#22aa00"/>
<rect x="1391.2" y="644.5" width="18.5" height="18.3" fill="#7d0008"/>
<rect x="1391.2" y="665.1" width="18.5" height="16.9" fill="#b0000c"/>
<rect x="1411.5" y="622.2" width="12.8" height="16.5" fill="#b0000c"/>
<rect x="1426" y="622.2" width="13" height="16.5" fill="#480003"/>
<rect x="1440.4" y="622.2" width="12.4" height="16.5" fill="#22aa00"/>
<rect x="1454.6" y="622.2" width="11.9" height="16.5" fill="#480003"/>
<rect x="1411.5" y="640.5" width="12.8" height="13.6" fill="#22aa00"/>
<rect x="1411.5" y="655.9" width="12.8" height="12.8" fill="#b0000c"/>
<rect x="1411.5" y="670.4" width="12.8" height="11.6" fill="#22aa00"/>
<rect x="1426" y="640.5" width="13" height="9.9" fill="#2cc800"/>
<rect x="1440.8" y="640.5" width="12.4" height="9.9" fill="#7d0008"/>
<rect x="1455.1" y="640.5" width="11.4" height="9.9" fill="#7d0008"/>
<rect x="1426" y="652.2" width="13" height="9.2" fill="#055000"/>
<rect x="1440.8" y="652.2" width="13" height="7.9" fill="#480003"/>
<rect x="1455.6" y="652.2" width="10.9" height="7.9" fill="#b0000c"/>
<rect x="1426" y="663.2" width="13" height="9" fill="#7d0008"/>
<rect x="1426" y="673.8" width="13" height="8.2" fill="#480003"/>
<rect x="1440.8" y="662.1" width="6.8" height="10.3" fill="#7d0008"/>
<rect x="1440.8" y="674.2" width="6.8" height="7.8" fill="#ff0019"/>
<rect x="1449.1" y="661.8" width="7.8" height="6.5" fill="#33ff00"/>
<rect x="1459" y="661.8" width="7.5" height="6.5" fill="#055000"/>
<rect x="1449.1" y="670" width="6" height="5.9" fill="#ff0019"/>
<rect x="1456.9" y="670" width="3.9" height="5.9" fill="#22aa00"/>
<rect x="1462.4" y="670" width="4.1" height="5.9" fill="#b0000c"/>
<rect x="1449.1" y="677.9" width="6" height="4.1" fill="#22aa00"/>
<rect x="1457.2" y="677.9" width="2.8" height="4.1" fill="#480003"/>
<rect x="1462.4" y="677.5" width="2.1" height="4.5" fill="#b0000c"/>
<rect x="1694.7" y="491.9" width="31.1" height="30.2" fill="#22aa00"/>
<rect x="1694.7" y="524" width="31.1" height="23.3" fill="#b0000c"/>
<rect x="1727.6" y="491.9" width="15.9" height="28.9" fill="#22aa00"/>
<rect x="1745.3" y="491.9" width="14.2" height="28.9" fill="#055000"/>
<rect x="1727.6" y="522.7" width="14" height="13.9" fill="#7d0008"/>
<rect x="1743.5" y="522.7" width="8.9" height="10.2" fill="#480003"/>
<rect x="1754.3" y="522.7" width="5.2" height="10.2" fill="#480003"/>
<rect x="1727.6" y="538.5" width="14" height="8.8" fill="#22aa00"/>
<rect x="1743.5" y="535.1" width="9.3" height="5.3" fill="#055000"/>
<rect x="1754.6" y="535.1" width="4.9" height="6.6" fill="#7d0008"/>
<rect x="1743.5" y="543.2" width="9.3" height="4.1" fill="#055000"/>
<rect x="1754.6" y="543.2" width="4.9" height="4.1" fill="#22aa00"/>
<rect x="1763" y="491.9" width="36.3" height="33.9" fill="#7d0008"/>
<rect x="1763" y="527.7" width="36.3" height="19.6" fill="#055000"/>
<rect x="1801.2" y="491.9" width="25.7" height="20.2" fill="#7d0008"/>
<rect x="1801.2" y="513.9" width="12.3" height="22.2" fill="#b0000c"/>
<rect x="1815.3" y="513.9" width="11.6" height="22.2" fill="#b0000c"/>
<rect x="1801.2" y="537.9" width="12.3" height="9.4" fill="#b0000c"/>
<rect x="1815.3" y="537.9" width="6.4" height="9.4" fill="#7d0008"/>
<rect x="1823.5" y="537.9" width="3.4" height="5.3" fill="#055000"/>
<rect x="1823.5" y="545" width="3.4" height="2.3" fill="#7d0008"/>
<rect x="1830.6" y="491.9" width="53.5" height="30.4" fill="#055000"/>
<rect x="1830.6" y="524.2" width="31.1" height="23.1" fill="#7d0008"/>
<rect x="1863.6" y="524.2" width="20.5" height="12.4" fill="#1c8004"/>
<rect x="1863.6" y="538.5" width="10.4" height="8.8" fill="#480003"/>
<rect x="1875.9" y="538.5" width="8.2" height="8.8" fill="#22aa00"/>
<rect x="1694.4" y="571.3" width="52.2" height="49.3" fill="#b0000c"/>
<rect x="1748.1" y="571.3" width="2.2" height="49.3" fill="#b0000c"/>
<rect x="1694.4" y="644.8" width="27.4" height="37.2" fill="#b0000c"/>
<rect x="1723.5" y="644.8" width="26.8" height="37.2" fill="#055000"/>
<rect x="1754.2" y="571.3" width="54.9" height="23.7" fill="#22aa00"/>
<rect x="1811.2" y="571.3" width="6" height="21.5" fill="#480003"/>
<rect x="1811.2" y="594.3" width="6" height="1.2" fill="#22aa00"/>
<rect x="1820.9" y="571.3" width="47.1" height="24.1" fill="#22aa00"/>
<rect x="1870.2" y="571.3" width="13.9" height="15.4" fill="#480003"/>
<rect x="1870.2" y="588.9" width="5.1" height="6.5" fill="#22aa00"/>
<rect x="1877" y="588.9" width="7.1" height="2.1" fill="#22aa00"/>
<rect x="1877" y="593.2" width="7.1" height="2.2" fill="#b0000c"/>
<rect x="1754.2" y="619.5" width="48.7" height="29.6" fill="#b0000c"/>
<rect x="1804.7" y="619.5" width="5.2" height="22" fill="#480003"/>
<rect x="1804.7" y="643.7" width="5.2" height="5.4" fill="#055000"/>
<rect x="1813.9" y="619.5" width="16.9" height="14.3" fill="#7d0008"/>
<rect x="1832.5" y="619.5" width="12.1" height="14.3" fill="#22aa00"/>
<rect x="1846.3" y="619.5" width="11.9" height="12.1" fill="#22aa00"/>
<rect x="1862.1" y="619.5" width="22" height="14.3" fill="#22aa00"/>
<rect x="1754.2" y="673.3" width="28.3" height="8.7" fill="#480003"/>
<rect x="1784.3" y="673.3" width="10.5" height="8.7" fill="#7d0008"/>
<rect x="1796.8" y="673.3" width="8.7" height="8.7" fill="#7d0008"/>
<rect x="1807.3" y="673.3" width="2.6" height="8.7" fill="#22aa00"/>
<rect x="1813.9" y="657.5" width="19.1" height="1.5" fill="#1c8004"/>
<rect x="1834.7" y="657.5" width="13.3" height="1.5" fill="#7d0008"/>
<rect x="1852.2" y="678" width="8.4" height="4" fill="#22aa00"/>
<rect x="1862.5" y="678" width="5.1" height="4" fill="#1c8004"/>
</svg>
<div class="h" style="left:271px;top:10.7px">محصولات شيميايي [+]</div>
<div class="h" style="left:271px;top:403.2px">فلزات اساسي [+]</div>
<div class="h" style="left:661px;top:10.7px">استخراج كانه هاي فلزي [+]</div>
<div class="h" style="left:661px;top:377.7px">خودرو و ساخت قطعات [+]</div>
<div class="h" style="left:915.5px;top:10.7px">بانكها و موسسات اعتباري [+]</div>
<div class="h" style="left:915.5px;top:352.7px">شركتهاي چند رشته اي صنعتي [+]</div>
<div class="h" style="left:1178px;top:10.7px">فراورده هاي نفتي، كك و سوخت هسته اي [+]</div>
<div class="h" style="left:1178.3px;top:264.7px">مواد و محصولات دارويي [+]</div>
<div class="h" style="left:1178.4px;top:476.5px">سرمايه گذاريها [+]</div>
<div class="h" style="left:1431px;top:10.7px">انبوه سازي، املاك و مستغلات [+]</div>
<div class="h" style="left:1628.5px;top:10.7px">سيمان، آهك و گچ [+]</div>
<div class="h" style="left:1800.3px;top:10.7px">عرضه برق، گاز، بخاروآب گرم [+]</div>
<div class="h" style="left:1393.6px;top:228px">زراعت و خدمات وابسته [+]</div>
<div class="h" style="left:1539.6px;top:228px">ساير محصولات كاني غيرفلزي [+]</div>
<div class="h" style="left:1684px;top:228px"><u>...</u> استخراج نفت گاز و خدمات [+]</div>
<div class="h" style="left:1819.7px;top:228px"><u>...</u>حمل ونقل، انبارداري و ا [+]</div>
<div class="h" style="left:1394.5px;top:458.2px"><u>...</u>محصولات غذايي و آشاميد [+]</div>
<div class="h" style="left:1529.2px;top:375px">ماشين آلات و تجهيزات [+]</div>
<div class="h" style="left:1645.8px;top:375px"><u>...</u>خدمات فني و مه [+]</div>
<div class="h" style="left:1749.8px;top:375px"><u>...</u>ساخت محصولا [+]</div>
<div class="h" style="left:1842.2px;top:375px"><u>...</u>بيمه وصندو [+]</div>
<div class="h" style="left:1530px;top:494.1px"><u>...</u>رايانه و فعاليت‌هاي وا [+]</div>
<div class="h" style="left:1529.8px;top:591.2px"><u>...</u>فعاليتهاي كمكي به نها [+]</div>
<div class="h" style="left:1641.8px;top:471.7px"><u>...</u>ماشين آلات و د [+]</div>
<div class="h" style="left:1641.8px;top:546.6px"><u>...</u>ساير واسطه گر [+]</div>
<div class="h" style="left:1642px;top:620.2px">كاشي و سراميك [+]</div>
<div class="h" style="left:1725.1px;top:471.7px">قند و شكر [+]</div>
<div class="h" style="left:1793.6px;top:471.7px"><u>...</u> لاستيك [+]</div>
<div class="h" style="left:1855.8px;top:471.7px"><u>...</u>اطلاع [+]</div>
<div class="h" style="left:1720.9px;top:550.7px">مخابرات [+]</div>
<div class="h" style="left:1784.2px;top:550.7px"><u>...</u>استخراج [+]</div>
<div class="h" style="left:1851.1px;top:550.7px">منسوجات [+]</div>
<div class="h" style="left:1721.5px;top:624px"><u>...</u> توليد [+]</div>
<div class="h" style="left:1780.4px;top:598.8px"><u>...</u>هتل و [+]</div>
<div class="h" style="left:1834.2px;top:598.8px"><u>...</u>اس [+]</div>
<div class="h" style="left:1872px;top:598.8px"><u>...</u>]</div>
<div class="h" style="left:1780.4px;top:652.5px"><u>...</u>محص [+]</div>
<div class="h" style="left:1829.5px;top:637.8px"><u>...</u> [+]</div>
<div class="h" style="left:1866.5px;top:637.8px"><u>...</u> [+]</div>
<div class="h" style="left:1829.5px;top:662.4px"><u>...</u> [+]</div>
<div class="t" style="left:9px;top:31px;width:164.3px;height:190.2px;font-size:25px;padding-top:4.9px"><b>شپديس</b><i>3%</i></div>
<div class="t" style="left:9px;top:223.4px;width:164.3px;height:176.6px;font-size:25px;padding-top:4.9px"><b>پارسان</b><i>2.99%</i></div>
<div class="t" style="left:175.3px;top:31px;width:136px;height:137.6px;font-size:18px;padding-top:4.1px"><b>فارس</b><i>2.95%</i></div>
<div class="t" style="left:313.5px;top:31px;width:108.8px;height:137.6px;font-size:15px;padding-top:3.8px"><b>نوري</b><i>3%</i></div>
<div class="t" style="left:424.5px;top:31px;width:92.8px;height:137.6px;font-size:12px;padding-top:3.4px"><b>شيراز</b><i>2.5%</i></div>
<div class="t" style="left:175.3px;top:170.6px;width:112px;height:84.4px;font-size:9px;padding-top:3.1px"><b>كرماشا</b><i>3%</i></div>
<div class="t z" style="left:289.3px;top:170.6px;width:94px;height:75.1px;font-size:7px;padding-top:2.8px"><b>زاگرس</b><i>2.99%</i></div>
<div class="t z" style="left:385.3px;top:170.6px;width:76.7px;height:75.1px;font-size:5px;padding-top:2.6px"><b>شكستر</b><i>2.99%</i></div>
<div class="t w" style="left:464.1px;top:170.6px;width:53.2px;height:75.1px;font-size:4px;padding-top:2.5px"><b>شاروم</b><i>2.92%</i></div>
<div class="t" style="left:175.3px;top:257.2px;width:112px;height:70.4px;font-size:8px;padding-top:2.9px"><b>شيران</b><i>-2.96%</i></div>
<div class="t z" style="left:175.3px;top:330px;width:112px;height:70px;font-size:7px;padding-top:2.8px"><b>تاپيكو</b><i>1.37%</i></div>
<div class="t s" style="left:297.5px;top:247.8px;width:55px;height:53.2px"><b>بوعلي</b></div>
<div class="t s" style="left:354.2px;top:247.8px;width:42.3px;height:55.7px"><b>جم</b></div>
<div class="t s" style="left:398.5px;top:247.8px;width:45.3px;height:30.8px"><b>پاكشو</b></div>
<div class="t s" style="left:445.7px;top:247.8px;width:41.1px;height:30.8px"><b>شكام</b></div>
<div class="t s" style="left:488.8px;top:247.8px;width:36.7px;height:30.8px"><b>شاملا</b></div>
<div class="t s" style="left:398.5px;top:281px;width:33.6px;height:29.8px"><b>قرن</b></div>
<div class="t s" style="left:433.6px;top:281px;width:30.3px;height:27px"><b>و<u>...</u></b></div>
<div class="t s" style="left:465.5px;top:281px;width:30px;height:27px"><b>ش<u>...</u></b></div>
<div class="t s" style="left:497.4px;top:281px;width:28.1px;height:27px"><b>كلر</b></div>
<div class="t s" style="left:297.5px;top:303px;width:55px;height:50.8px"><b>آريا</b></div>
<div class="t s" style="left:297.5px;top:356px;width:55px;height:44px"><b>پترول</b></div>
<div class="t s" style="left:354.2px;top:305.5px;width:42.3px;height:50.1px"><b>شفار<u>...</u></b></div>
<div class="t s" style="left:354.2px;top:357.7px;width:42.3px;height:42.3px"><b>مارون</b></div>
<div class="t s" style="left:398.5px;top:312.8px;width:33.6px;height:29.4px"><b>پارس</b></div>
<div class="t s" style="left:398.5px;top:344.2px;width:33.6px;height:27.7px"><b>شو<u>...</u></b></div>
<div class="t s" style="left:398.5px;top:373.8px;width:33.6px;height:26.2px"><b>ش<u>...</u></b></div>
<div class="t s" style="left:433.6px;top:310px;width:26.3px;height:22.4px"><b>ج<u>...</u></b></div>
<div class="t" style="left:9px;top:424px;width:186.9px;height:258px;font-size:25px;padding-top:4.9px"><b>فملي</b><i>2.99%</i></div>
<div class="t" style="left:198.1px;top:424px;width:138.8px;height:190.5px;font-size:25px;padding-top:4.9px"><b>فولاد</b><i>2.99%</i></div>
<div class="t" style="left:198.1px;top:616.6px;width:138.8px;height:65.4px;font-size:9px;padding-top:3.1px"><b>ذوب</b><i>2.88%</i></div>
<div class="t w" style="left:338.8px;top:424px;width:70.1px;height:62.5px;font-size:3.5px;padding-top:2.4px"><b>فولاي</b><i>2.99%</i></div>
<div class="t s" style="left:419.1px;top:424px;width:55.1px;height:62.5px"><b>فباهنر</b></div>
<div class="t s" style="left:476.3px;top:424px;width:49.2px;height:62.5px"><b>آلومينا</b></div>
<div class="t s" style="left:347px;top:488.3px;width:58.5px;height:47.1px"><b>كاوه</b></div>
<div class="t s" style="left:407.5px;top:488.3px;width:58.5px;height:47.1px"><b>فسبزوار</b></div>
<div class="t s" style="left:468.1px;top:488.3px;width:57.4px;height:47.1px"><b>فخوز</b></div>
<div class="t s" style="left:347px;top:537.2px;width:48.5px;height:49.8px"><b>ميدكو</b></div>
<div class="t s" style="left:347px;top:589.3px;width:48.5px;height:48.3px"><b>وتوكا</b></div>
<div class="t s" style="left:347px;top:640px;width:48.5px;height:42px"><b>فايرا</b></div>
<div class="t s" style="left:397.5px;top:537.2px;width:44.4px;height:36.8px"><b>فسازان</b></div>
<div class="t s" style="left:444px;top:537.2px;width:39.8px;height:36.8px"><b>فولاژ</b></div>
<div class="t s" style="left:485.7px;top:537.2px;width:39.8px;height:36.8px"><b>سي<u>...</u></b></div>
<div class="t s" style="left:397.5px;top:576.4px;width:32.5px;height:36.2px"><b>فجر</b></div>
<div class="t s" style="left:397.5px;top:615px;width:32.5px;height:35.3px"><b>قنو<u>...</u></b></div>
<div class="t s" style="left:397.5px;top:652.7px;width:32.5px;height:29.3px"><b>فرود</b></div>
<div class="t s" style="left:432px;top:576.4px;width:31.3px;height:27px"><b>فصبا</b></div>
<div class="t s" style="left:465.7px;top:576.4px;width:30.1px;height:27px"><b>فل<u>...</u></b></div>
<div class="t s" style="left:497.7px;top:576.4px;width:27.8px;height:27px"><b>ف<u>...</u></b></div>
<div class="t" style="left:521.1px;top:30.9px;width:146.6px;height:169px;font-size:24px;padding-top:4.8px"><b>فزر</b><i>-2.99%</i></div>
<div class="t" style="left:669.4px;top:30.9px;width:116px;height:169px;font-size:19px;padding-top:4.2px"><b>كچاد</b><i>2.99%</i></div>
<div class="t" style="left:521.1px;top:201.7px;width:89.7px;height:173px;font-size:15px;padding-top:3.8px"><b>تاصيكو</b><i>2.92%</i></div>
<div class="t" style="left:612.5px;top:201.7px;width:94.3px;height:88.5px;font-size:8px;padding-top:2.9px"><b>كگل</b><i>3%</i></div>
<div class="t z" style="left:708.6px;top:201.7px;width:76.8px;height:88.5px;font-size:6px;padding-top:2.7px"><b>كگهر</b><i>2.98%</i></div>
<div class="t w" style="left:612.5px;top:292.1px;width:50.3px;height:82.6px;font-size:3.5px;padding-top:2.4px"><b>كروي</b><i>0.68%</i></div>
<div class="t w" style="left:664.5px;top:292.1px;width:48.8px;height:82.6px;font-size:3.5px;padding-top:2.4px"><b>ومعادن</b><i>2.86%</i></div>
<div class="t s" style="left:723.2px;top:292.1px;width:70.4px;height:50.9px"><b>كاما</b></div>
<div class="t s" style="left:723.2px;top:344.7px;width:21.2px;height:30px"><b>ا<u>...</u></b></div>
<div class="t" style="left:521.1px;top:398.6px;width:144.5px;height:114.8px;font-size:16px;padding-top:3.9px"><b>خودرو</b><i>-0.56%</i></div>
<div class="t" style="left:667.2px;top:398.6px;width:118.2px;height:114.8px;font-size:13px;padding-top:3.5px"><b>خساپا</b><i>-1.2%</i></div>
<div class="t z" style="left:521.1px;top:515.1px;width:70px;height:84.1px;font-size:6px;padding-top:2.7px"><b>خزاميا</b><i>1.33%</i></div>
<div class="t z" style="left:592.6px;top:515.1px;width:60.6px;height:87.7px;font-size:5px;padding-top:2.6px"><b>خبهمن</b><i>-1.59%</i></div>
<div class="t s" style="left:663.4px;top:515.1px;width:68px;height:44.6px"><b>خيمن</b></div>
<div class="t s" style="left:733px;top:515.1px;width:60.7px;height:44.6px"><b>خموتور</b></div>
<div class="t z" style="left:521.1px;top:600.9px;width:70px;height:81.3px;font-size:5px;padding-top:2.6px"><b>خگستر</b><i>-1.36%</i></div>
<div class="t w" style="left:592.6px;top:604.5px;width:60.6px;height:77.7px;font-size:4px;padding-top:2.5px"><b>ورنا</b><i>-2.84%</i></div>
<div class="t s" style="left:663.4px;top:561.6px;width:37px;height:56.4px"><b>خاور</b></div>
<div class="t s" style="left:702.1px;top:561.6px;width:32.1px;height:29.3px"><b>خچ<u>...</u></b></div>
<div class="t s" style="left:736.1px;top:561.6px;width:30.4px;height:29.3px"><b>خكار</b></div>
<div class="t s" style="left:768.4px;top:561.6px;width:25.3px;height:29.3px"><b>خ<u>...</u></b></div>
<div class="t s" style="left:663.4px;top:619.9px;width:37px;height:32.6px"><b>خو<u>...</u></b></div>
<div class="t s" style="left:663.4px;top:654.4px;width:37px;height:27.8px"><b>خبرنا</b></div>
<div class="t s" style="left:702.1px;top:592.8px;width:22.9px;height:29.9px"><b>خ<u>...</u></b></div>
<div class="t s" style="left:726.9px;top:592.8px;width:24.1px;height:25.7px"><b>خ<u>...</u></b></div>
<div class="t s" style="left:702.1px;top:624.2px;width:22.9px;height:28.2px"><b>خ<u>...</u></b></div>
<div class="t s" style="left:702.1px;top:654.4px;width:22.9px;height:27.8px"><b>خ<u>...</u></b></div>
<div class="t" style="left:788.9px;top:30.9px;width:236.6px;height:149px;font-size:25px;padding-top:4.9px"><b>وبملت</b><i>-0.95%</i></div>
<div class="t" style="left:788.9px;top:181.8px;width:126.4px;height:94.7px;font-size:12px;padding-top:3.4px"><b>وپارس</b><i>-2.77%</i></div>
<div class="t z" style="left:917.1px;top:181.8px;width:55.3px;height:89.2px;font-size:5px;padding-top:2.6px"><b>ونوين</b><i>-1.05%</i></div>
<div class="t w" style="left:973.9px;top:181.8px;width:51.5px;height:89.2px;font-size:4px;padding-top:2.5px"><b>وبصادر</b><i>-1.38%</i></div>
<div class="t" style="left:788.9px;top:278.4px;width:126.4px;height:71px;font-size:9px;padding-top:3.1px"><b>وتجارت</b><i>-0.62%</i></div>
<div class="t s" style="left:925.4px;top:273.5px;width:42.2px;height:75.9px"><b>وپاسار</b></div>
<div class="t s" style="left:969.4px;top:273.5px;width:64.3px;height:34.3px"><b>وسينا</b></div>
<div class="t s" style="left:969.4px;top:309.7px;width:35.2px;height:39.7px"><b>وخاور</b></div>
<div class="t s" style="left:1006.1px;top:309.7px;width:27.5px;height:28.9px"><b>و<u>...</u></b></div>
<div class="t" style="left:788.9px;top:373.9px;width:236.6px;height:166.2px;font-size:25px;padding-top:4.9px"><b>وغدير</b><i>2.92%</i></div>
<div class="t" style="left:788.9px;top:541.9px;width:173.2px;height:140.3px;font-size:24px;padding-top:4.8px"><b>شستا</b><i>2.87%</i></div>
<div class="t w" style="left:963.9px;top:541.9px;width:61.5px;height:75.2px;font-size:3.5px;padding-top:2.4px"><b>واميد</b><i>1.23%</i></div>
<div class="t s" style="left:972.1px;top:619px;width:61.5px;height:28.9px"><b>وكغدير</b></div>
<div class="t s" style="left:972.1px;top:649.5px;width:24.2px;height:32.7px"><b>و<u>...</u></b></div>
<div class="t s" style="left:998.2px;top:649.5px;width:23.7px;height:32.7px"><b>و<u>...</u></b></div>
<div class="t" style="left:1029.4px;top:30.9px;width:126.5px;height:231px;font-size:24px;padding-top:4.8px"><b>شپنا</b><i>1.6%</i></div>
<div class="t" style="left:1157.7px;top:30.9px;width:153.7px;height:131.8px;font-size:19px;padding-top:4.2px"><b>شتران</b><i>1.45%</i></div>
<div class="t w" style="left:1157.7px;top:164.8px;width:90.8px;height:50.9px;font-size:4px;padding-top:2.5px"><b>شبريز</b><i>-0.13%</i></div>
<div class="t w" style="left:1157.7px;top:217.4px;width:90.8px;height:44.5px;font-size:4px;padding-top:2.5px"><b>شبندر</b><i>2.99%</i></div>
<div class="t s" style="left:1258.4px;top:164.8px;width:61.2px;height:42.5px"><b>شراز</b></div>
<div class="t s" style="left:1258.4px;top:209.2px;width:29px;height:52.7px"><b>شا<u>...</u></b></div>
<div class="t" style="left:1029.2px;top:285.3px;width:86.5px;height:188.2px;font-size:17px;padding-top:4px"><b>پخش</b><i>2.71%</i></div>
<div class="t s" style="left:1125.5px;top:285.3px;width:49px;height:67.6px"><b>دامين</b></div>
<div class="t s" style="left:1125.5px;top:354.6px;width:49px;height:60.9px"><b>دزاگرس</b></div>
<div class="t s" style="left:1125.5px;top:417.4px;width:49px;height:56.1px"><b>دعبيد</b></div>
<div class="t s" style="left:1175.8px;top:285.3px;width:48.6px;height:49px"><b>تيپيكو</b></div>
<div class="t s" style="left:1226.4px;top:285.3px;width:47.3px;height:49px"><b>دفارا</b></div>
<div class="t s" style="left:1275.7px;top:285.3px;width:44.8px;height:49px"><b>دتوزيع</b></div>
<div class="t s" style="left:1175.8px;top:336.2px;width:38.3px;height:54.5px"><b>دك<u>...</u></b></div>
<div class="t s" style="left:1175.8px;top:392.6px;width:38.3px;height:41.6px"><b>دلقما</b></div>
<div class="t s" style="left:1175.8px;top:436.1px;width:38.3px;height:37.4px"><b>بيو<u>...</u></b></div>
<div class="t s" style="left:1215.8px;top:336.2px;width:36.3px;height:31.9px"><b>كا<u>...</u></b></div>
<div class="t s" style="left:1253.8px;top:336.2px;width:34.4px;height:31.9px"><b>بركت</b></div>
<div class="t s" style="left:1289.9px;top:336.2px;width:30.6px;height:31.9px"><b>دلر</b></div>
<div class="t s" style="left:1215.8px;top:370.1px;width:30.5px;height:26.4px"><b>و<u>...</u></b></div>
<div class="t s" style="left:1248px;top:370.1px;width:24.1px;height:26.4px"><b>دا<u>...</u></b></div>
<div class="t s" style="left:1273.8px;top:370.1px;width:22.5px;height:26.4px"><b>د<u>...</u></b></div>
<div class="t s" style="left:1298.2px;top:370.1px;width:22.3px;height:26.4px"><b>د<u>...</u></b></div>
<div class="t s" style="left:1215.8px;top:398.7px;width:30.5px;height:24.8px"><b>دا<u>...</u></b></div>
<div class="t s" style="left:1215.8px;top:425.5px;width:30.5px;height:23.2px"><b>ددانا</b></div>
<div class="t s" style="left:1215.8px;top:450.6px;width:30.5px;height:22.9px"><b>درا<u>...</u></b></div>
<div class="t" style="left:1029.2px;top:496.7px;width:87.7px;height:185.6px;font-size:17px;padding-top:4px"><b>وساپا</b><i>-2.96%</i></div>
<div class="t z" style="left:1118.3px;top:496.7px;width:68.1px;height:93.6px;font-size:6px;padding-top:2.7px"><b>سرك0312پ01</b><i>-2.17%</i></div>
<div class="t z" style="left:1118.3px;top:592.3px;width:68.1px;height:90px;font-size:6px;padding-top:2.7px"><b>وسپه</b><i>2.9%</i></div>
<div class="t z" style="left:1188.2px;top:496.7px;width:84.6px;height:56.7px;font-size:5px;padding-top:2.6px"><b>آريان</b><i>1.27%</i></div>
<div class="t s" style="left:1282.7px;top:496.7px;width:37.9px;height:56.7px"><b>وخار<u>...</u></b></div>
<div class="t s" style="left:1196.4px;top:555.1px;width:43.4px;height:40.1px"><b>سكه0<u>...</u></b></div>
<div class="t s" style="left:1241.9px;top:555.1px;width:28.6px;height:40.1px"><b>و<u>...</u></b></div>
<div class="t s" style="left:1296.9px;top:555.1px;width:23.7px;height:40.1px"><b>م<u>...</u></b></div>
<div class="t s" style="left:1196.4px;top:596.9px;width:27.6px;height:27.4px"><b>وم<u>...</u></b></div>
<div class="t s" style="left:1196.4px;top:626.6px;width:27.6px;height:28px"><b>شهر</b></div>
<div class="t s" style="left:1226px;top:658.3px;width:22.1px;height:24px"><b>و<u>...</u></b></div>
<div class="t s" style="left:1249.8px;top:596.9px;width:24px;height:20.8px"><b>و<u>...</u></b></div>
<div class="t s" style="left:1275.5px;top:596.9px;width:22px;height:20.8px"><b>و<u>...</u></b></div>
<div class="t" style="left:1315px;top:30.6px;width:92px;height:194.3px;font-size:18px;padding-top:4.1px"><b>ثفارس</b><i>-2.74%</i></div>
<div class="t z" style="left:1408.2px;top:30.6px;width:87.9px;height:74.7px;font-size:6px;padding-top:2.7px"><b>ثشاهد</b><i>1.1%</i></div>
<div class="t s" style="left:1506.4px;top:30.6px;width:33.7px;height:74.7px"><b>ثالو<u>...</u></b></div>
<div class="t s" style="left:1416.5px;top:107.4px;width:51.9px;height:39.5px"><b>آ س پ</b></div>
<div class="t s" style="left:1416.5px;top:148.5px;width:51.9px;height:39.8px"><b>ثمسكن</b></div>
<div class="t s" style="left:1416.5px;top:189.8px;width:51.9px;height:35.1px"><b>ثاخت</b></div>
<div class="t s" style="left:1470.1px;top:107.4px;width:34.3px;height:49.6px"><b>ثبه<u>...</u></b></div>
<div class="t s" style="left:1506.4px;top:107.4px;width:33.7px;height:49.6px"><b>ثپرد<u>...</u></b></div>
<div class="t s" style="left:1470.1px;top:193.2px;width:20.9px;height:31.7px"><b>و<u>...</u></b></div>
<div class="t s" style="left:1542.9px;top:30.6px;width:61.4px;height:48.9px"><b>سصوفي</b></div>
<div class="t s" style="left:1605.9px;top:30.6px;width:54px;height:48.9px"><b>سآبيك</b></div>
<div class="t s" style="left:1661.5px;top:30.6px;width:52.3px;height:48.9px"><b>سرود</b></div>
<div class="t s" style="left:1542.9px;top:81.2px;width:47.9px;height:51.6px"><b>سباقر</b></div>
<div class="t s" style="left:1592.5px;top:81.2px;width:40.4px;height:41.2px"><b>سه<u>...</u></b></div>
<div class="t s" style="left:1634.6px;top:81.2px;width:39.4px;height:41.2px"><b>سشر<u>...</u></b></div>
<div class="t s" style="left:1675.7px;top:81.2px;width:38.1px;height:41.2px"><b>سبهان</b></div>
<div class="t s" style="left:1542.9px;top:134.5px;width:47.9px;height:51.2px"><b>ساروم</b></div>
<div class="t s" style="left:1542.9px;top:187.3px;width:47.9px;height:37.6px"><b>سفارس</b></div>
<div class="t s" style="left:1592.5px;top:124.4px;width:33px;height:39.4px"><b>سخ<u>...</u></b></div>
<div class="t s" style="left:1592.5px;top:165.5px;width:33px;height:29.6px"><b>سغ<u>...</u></b></div>
<div class="t s" style="left:1592.5px;top:196.8px;width:33px;height:28.2px"><b>سخزر</b></div>
<div class="t s" style="left:1627.2px;top:124.4px;width:30.3px;height:28.3px"><b>س<u>...</u></b></div>
<div class="t" style="left:1709px;top:30.6px;width:165.7px;height:96px;font-size:16px;padding-top:3.9px"><b>مبين</b><i>0.3%</i></div>
<div class="t w" style="left:1709px;top:128.7px;width:53.9px;height:96.3px;font-size:3.5px;padding-top:2.4px"><b>بكاب</b><i>0.74%</i></div>
<div class="t s" style="left:1772.9px;top:128.7px;width:47.1px;height:59.3px"><b>بفجر</b></div>
<div class="t s" style="left:1772.9px;top:190px;width:47.1px;height:35px"><b>بجهرم</b></div>
<div class="t s" style="left:1821.7px;top:128.7px;width:32px;height:44.5px"><b>دما<u>...</u></b></div>
<div class="t s" style="left:1821.7px;top:174.8px;width:26.6px;height:28.7px"><b>و<u>...</u></b></div>
<div class="t z" style="left:1315.3px;top:248.7px;width:85.8px;height:71.5px;font-size:6px;padding-top:2.7px"><b>زمگسا</b><i>2.99%</i></div>
<div class="t w" style="left:1403px;top:248.7px;width:53.8px;height:71.5px;font-size:4px;padding-top:2.5px"><b>سپيد</b><i>3%</i></div>
<div class="t s" style="left:1323.5px;top:322px;width:54.9px;height:51px"><b>زبينا</b></div>
<div class="t s" style="left:1380.2px;top:322px;width:41.7px;height:47.4px"><b>تليسه</b></div>
<div class="t s" style="left:1423.5px;top:322px;width:41.5px;height:47.4px"><b>زشري<u>...</u></b></div>
<div class="t s" style="left:1323.5px;top:375px;width:54.9px;height:41.2px"><b>زكوثر</b></div>
<div class="t s" style="left:1323.5px;top:417.9px;width:54.9px;height:37px"><b>زفكا</b></div>
<div class="t s" style="left:1380.1px;top:371.5px;width:41.6px;height:46.4px"><b>سيمرغ</b></div>
<div class="t s" style="left:1380.1px;top:419.6px;width:41.6px;height:35.3px"><b>زماهان</b></div>
<div class="t s" style="left:1423.4px;top:371.5px;width:41.6px;height:24.1px"><b>زقيام</b></div>
<div class="t s" style="left:1423.4px;top:397.5px;width:41.6px;height:21.3px"><b>زگلد<u>...</u></b></div>
<div class="t z" style="left:1460px;top:248.7px;width:79.8px;height:76.7px;font-size:6px;padding-top:2.7px"><b>كخاك</b><i>0.59%</i></div>
<div class="t s" style="left:1549.6px;top:248.7px;width:30.9px;height:45.1px"><b>كايزد</b></div>
<div class="t s" style="left:1582.4px;top:248.7px;width:28.2px;height:45.1px"><b>كم<u>...</u></b></div>
<div class="t s" style="left:1549.6px;top:295.6px;width:31.6px;height:32.8px"><b>كسرا</b></div>
<div class="t s" style="left:1583.1px;top:295.6px;width:27.5px;height:32.8px"><b>ك<u>...</u></b></div>
<div class="t w" style="left:1460px;top:327px;width:79.8px;height:44.7px;font-size:3.5px;padding-top:2.4px"><b>كرازي</b><i>2.97%</i></div>
<div class="t" style="left:1606.2px;top:248.7px;width:139.4px;height:123px;font-size:19px;padding-top:4.2px"><b>حفاري</b><i>-1.97%</i></div>
<div class="t z" style="left:1749px;top:248.7px;width:56.2px;height:123px;font-size:7px;padding-top:2.8px"><b>حكشتي</b><i>2.4%</i></div>
<div class="t s" style="left:1815.2px;top:248.7px;width:67.4px;height:37.1px"><b>حسينا</b></div>
<div class="t s" style="left:1815.2px;top:287.6px;width:37.8px;height:45.2px"><b>حآفر<u>...</u></b></div>
<div class="t s" style="left:1854.8px;top:287.6px;width:27.8px;height:45.2px"><b>ح<u>...</u></b></div>
<div class="t s" style="left:1815.2px;top:334.6px;width:27.5px;height:21.1px"><b>ح<u>...</u></b></div>
<div class="t s" style="left:1468.6px;top:395.2px;width:53.5px;height:48.6px"><b>الكتروماد</b></div>
<div class="t s" style="left:1468.6px;top:446.1px;width:53.5px;height:44.6px"><b>تكنو</b></div>
<div class="t s" style="left:1523.9px;top:395.2px;width:66.7px;height:35.6px"><b>تايرا</b></div>
<div class="t s" style="left:1523.9px;top:433px;width:29.5px;height:28.5px"><b>ان<u>...</u></b></div>
<div class="t s" style="left:1523.9px;top:463.4px;width:29.5px;height:27.3px"><b>تك<u>...</u></b></div>
<div class="t z" style="left:1586.1px;top:395.2px;width:62.8px;height:72.6px;font-size:4.5px;padding-top:2.5px"><b>كيسون</b><i>0.74%</i></div>
<div class="t s" style="left:1658.6px;top:395.2px;width:40px;height:62.6px"><b>رمپنا</b></div>
<div class="t z" style="left:1693.7px;top:395.2px;width:55px;height:72.7px;font-size:4.5px;padding-top:2.5px"><b>فاراك</b><i>1.78%</i></div>
<div class="t s" style="left:1758.7px;top:395.2px;width:39.3px;height:29.1px"><b>چدن</b></div>
<div class="t s" style="left:1801.6px;top:395.2px;width:33.7px;height:25.7px"><b>البرز</b></div>
<div class="t s" style="left:1836.9px;top:395.2px;width:23.3px;height:27.2px"><b>دانا</b></div>
<div class="t s" style="left:1801.6px;top:422.8px;width:33.7px;height:22.4px"><b>كوثر</b></div>
<div class="t s" style="left:1801.6px;top:447px;width:33.7px;height:20.9px"><b>نوين</b></div>
<div class="t s" style="left:1836.9px;top:424.7px;width:20.5px;height:23.8px"><b>آ<u>...</u></b></div>
<div class="t s" style="left:1468.6px;top:514.8px;width:47.5px;height:40.4px"><b>رانفور</b></div>
<div class="t s" style="left:1468.6px;top:557.1px;width:47.5px;height:30.7px"><b>پي پاد</b></div>
<div class="t s" style="left:1517.8px;top:514.8px;width:38.2px;height:29.3px"><b>فن ا<u>...</u></b></div>
<div class="t s" style="left:1557.5px;top:514.8px;width:33.1px;height:29.3px"><b>تو<u>...</u></b></div>
<div class="t s" style="left:1517.8px;top:545.9px;width:26.1px;height:20.9px"><b>ر<u>...</u></b></div>
<div class="t s" style="left:1594.3px;top:491.9px;width:31.1px;height:51.2px"><b>بترا<u>...</u></b></div>
<div class="t s" style="left:1627.3px;top:491.9px;width:26px;height:28.5px"><b>ب<u>...</u></b></div>
<div class="t s" style="left:1627.3px;top:522.3px;width:26px;height:20.8px"><b>با<u>...</u></b></div>
<div class="t s" style="left:1594.3px;top:567.3px;width:40.4px;height:25.3px"><b>وايران</b></div>
<div class="t s" style="left:1594.3px;top:594.7px;width:40.4px;height:22.2px"><b>ولصنم</b></div>
<div class="t w" style="left:1586.1px;top:641.1px;width:78.4px;height:40.9px;font-size:3.5px;padding-top:2.4px"><b>كحافظ</b><i>2.98%</i></div>
<div class="t w" style="left:1460.4px;top:612px;width:47.6px;height:70px;font-size:3.5px;padding-top:2.4px"><b>كالا</b><i>0.32%</i></div>
<div class="t s" style="left:1518.4px;top:612px;width:37.8px;height:34px"><b>فرابو<u>...</u></b></div>
<div class="t s" style="left:1558.2px;top:612px;width:32.4px;height:34px"><b>انرژي</b></div>
<div class="t s" style="left:1518.4px;top:648.1px;width:37.8px;height:33.9px"><b>بورس</b></div>
<div class="t w" style="left:1315.1px;top:478px;width:74.4px;height:61.7px;font-size:3.5px;padding-top:2.4px"><b>غديس</b><i>-3.08%</i></div>
<div class="t w" style="left:1391.8px;top:478.2px;width:65px;height:61.3px;font-size:3px;padding-top:2.4px"><b>آرميت</b><i>-0.45%</i></div>
<div class="t s" style="left:1323.3px;top:541.8px;width:40.4px;height:44.9px"><b>غزر</b></div>
<div class="t s" style="left:1323.3px;top:588.7px;width:40.4px;height:31.7px"><b>غكور<u>...</u></b></div>
<div class="t s" style="left:1323.3px;top:622.8px;width:40.4px;height:31.7px"><b>نان</b></div>
<div class="t s" style="left:1323.3px;top:656.5px;width:40.4px;height:25.7px"><b>غبهن<u>...</u></b></div>
<div class="t s" style="left:1365.3px;top:541.8px;width:32.4px;height:26.4px"><b>غ<u>...</u></b></div>
<div class="t s" style="left:1400px;top:542px;width:31.3px;height:26px"><b>زع<u>...</u></b></div>
<div class="t s" style="left:1433.7px;top:542px;width:31.3px;height:26px"><b>غالبر</b></div>
<div class="t s" style="left:1365.3px;top:570.3px;width:27.2px;height:28.6px"><b>به<u>...</u></b></div>
<div class="t s" style="left:1394.8px;top:570.5px;width:22.6px;height:28.2px"><b>غ<u>...</u></b></div>
<div class="t s" style="left:1419.8px;top:570.5px;width:21.9px;height:28.2px"><b>غ<u>...</u></b></div>
<div class="t s" style="left:1444.2px;top:570.5px;width:20.8px;height:28.2px"><b>غ<u>...</u></b></div>
<div class="t s" style="left:1365.3px;top:600.9px;width:22.7px;height:26.5px"><b>غ<u>...</u></b></div>
<div class="t s" style="left:1365.3px;top:629.8px;width:22.7px;height:24.7px"><b>غ<u>...</u></b></div>
<div class="t s" style="left:1365.3px;top:656.5px;width:22.7px;height:25.7px"><b>و<u>...</u></b></div>
<div class="t s" style="left:1693.2px;top:491.9px;width:31.1px;height:30.2px"><b>ني<u>...</u></b></div>
<div class="t s" style="left:1693.2px;top:524px;width:31.1px;height:23.3px"><b>قثا<u>...</u></b></div>
<div class="t s" style="left:1761.5px;top:491.9px;width:36.3px;height:33.9px"><b>پكوير</b></div>
<div class="t s" style="left:1829.1px;top:491.9px;width:53.5px;height:30.4px"><b>اسياتك</b></div>
<div class="t s" style="left:1829.1px;top:524.2px;width:31.1px;height:23.1px"><b>ها<u>...</u></b></div>
<div class="t s" style="left:1692.9px;top:571.3px;width:52.2px;height:49.3px"><b>اخابر</b></div>
<div class="t s" style="left:1692.9px;top:644.8px;width:27.4px;height:37.2px"><b>ما<u>...</u></b></div>
<div class="t s" style="left:1722px;top:644.8px;width:26.8px;height:37.2px"><b>نيان</b></div>
<div class="t s" style="left:1752.7px;top:571.3px;width:54.9px;height:23.7px"><b>كماسه</b></div>
<div class="t s" style="left:1819.4px;top:571.3px;width:47.1px;height:24.1px"><b>محتشم</b></div>
<div class="t s" style="left:1752.7px;top:619.5px;width:48.7px;height:29.6px"><b>سمگا</b></div>
</div>
<svg id="wm" width="480" height="200" viewBox="0 338 480 200" style="top:338px">
<defs>
<g id="wmf" fill="currentColor" stroke="none">
<circle cx="366.3" cy="432.4" r="18.4"/>
<path d="M355.6 523.1V467.8A9.3 9.3 0 0 1 374.2 467.8V523.1Z"/>
<rect x="33" y="463.6" width="235.2" height="2.6"/>
<text x="151.5" y="384.6" text-anchor="middle" textLength="227" lengthAdjust="spacingAndGlyphs" stroke="currentColor" stroke-width="2.4" stroke-linejoin="round" style="font-family:'DejaVu Sans',sans-serif;font-weight:bold;font-size:51px;direction:rtl">ايـــبـــنـــا</text>
<text x="150.7" y="443" text-anchor="middle" textLength="224" lengthAdjust="spacingAndGlyphs" stroke="currentColor" stroke-width="1.6" stroke-linejoin="round" style="font-family:'DejaVu Sans',sans-serif;font-weight:bold;font-size:33px;direction:rtl">رسانه بانک مرکزی</text>
<text x="35" y="514.6" text-anchor="start" stroke="currentColor" stroke-width="0.8" style="font-family:'Liberation Sans',sans-serif;font-weight:bold;font-size:50px;letter-spacing:6.9px;direction:ltr">ibena.ir</text>
</g>
<g id="wmr" fill="none" stroke="currentColor" stroke-width="6.3" stroke-linecap="round">
<path d="M355.95 352.85A80 80 0 0 0 340.8 508.46M373.45 352.72A80 80 0 0 1 389 508.71"/>
<path d="M355.95 372.73A60.3 60.3 0 0 0 340.8 487.4M373.45 372.55A60.3 60.3 0 0 1 389 487.75"/>
<path d="M355.95 392.79A40.6 40.6 0 0 0 340.8 464.67M373.45 392.53A40.6 40.6 0 0 1 389 465.26"/>
</g>
<g id="wms"><use href="#wmr" x="-1.7"/><use href="#wmr" x="1.7"/></g>
<mask id="wmm" maskUnits="userSpaceOnUse" x="0" y="338" width="480" height="200">
<rect x="0" y="338" width="480" height="200" fill="#fff"/>
<use href="#wmf" style="color:#000"/><use href="#wms" style="color:#000"/>
</mask>
</defs>
<g mask="url(#wmm)" opacity="0.25" fill="#828282"><rect x="0" y="338.4" width="366" height="191.3"/><circle cx="365.4" cy="434.1" r="95.8"/></g>
<g opacity="0.35"><use href="#wmf" style="color:#fff"/><use href="#wms" style="color:#fff"/></g>
</svg>
</div>
</body></html>
